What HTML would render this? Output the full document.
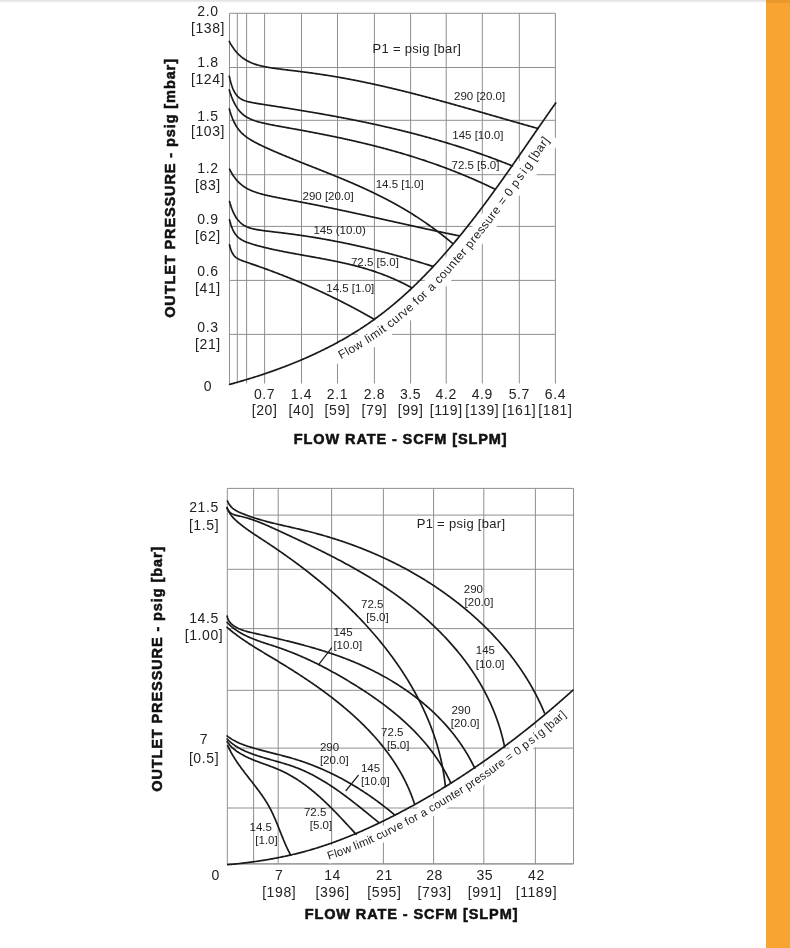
<!DOCTYPE html>
<html><head><meta charset="utf-8"><style>
html,body{margin:0;padding:0;width:790px;height:948px;overflow:hidden;background:#fff}
svg{position:absolute;left:0;top:0;display:block;filter:blur(0.3px)}
text{font-family:"Liberation Sans",sans-serif;fill:#222}
.t{font-size:14px;text-anchor:middle;letter-spacing:0.6px}
.s{font-size:11.5px}
.b{font-size:14.5px;font-weight:bold;fill:#111;stroke:#111;stroke-width:0.55px;letter-spacing:0.9px;text-anchor:middle}
.g{stroke:#8f8f8f;stroke-width:1;fill:none}
.c{stroke:#1a1a1a;stroke-width:1.7;fill:none;stroke-linecap:round}
.halo{stroke:#fff;stroke-width:13;stroke-linejoin:round;fill:#fff}
</style></head><body>
<svg width="790" height="948" viewBox="0 0 790 948">
<defs><linearGradient id="tg" x1="0" y1="0" x2="0" y2="1"><stop offset="0" stop-color="#e4e4e4"/><stop offset="0.45" stop-color="#e6e6e6"/><stop offset="1" stop-color="#fcfcfc"/></linearGradient></defs>
<rect x="0" y="0" width="790" height="2.6" fill="url(#tg)"/>
<rect x="766" y="0" width="24" height="948" fill="#f8a432"/>
<rect x="766" y="0" width="24" height="3" fill="#e9982c"/>

<path class="g" d="M229.5,13.3V383.5 M237.3,13.3V383.5 M246.6,13.3V383.5 M264.6,13.3V383.5 M301.5,13.3V383.5 M337.5,13.3V383.5 M374.4,13.3V383.5 M410.6,13.3V383.5 M446.2,13.3V383.5 M482.3,13.3V383.5 M519.3,13.3V383.5 M555.4,13.3V383.5 M229.5,13.3H555.4 M229.5,67.5H555.4 M229.5,120.3H555.4 M229.5,174.7H555.4 M229.5,226.4H555.4 M229.5,280.4H555.4 M229.5,334.4H555.4 M227.3,488.4V863.9 M253.6,488.4V863.9 M278.2,488.4V863.9 M331.6,488.4V863.9 M383.4,488.4V863.9 M433.6,488.4V863.9 M483.8,488.4V863.9 M535.4,488.4V863.9 M573.5,488.4V863.9 M227.3,488.4H573.5 M253.6,515.1H573.5 M227.3,569.3H573.5 M227.3,628.6H573.5 M227.3,690.3H573.5 M227.3,748.1H573.5 M227.3,808.0H573.5 M227.3,863.9H573.5"/>
<defs><path id="fp1" d="M233.9,400.3 L234.9,400.0 L235.9,399.8 L236.9,399.5 L237.8,399.2 L238.8,399.0 L239.8,398.7 L240.8,398.4 L241.8,398.1 L242.8,397.8 L243.8,397.6 L244.7,397.3 L245.7,397.0 L246.7,396.7 L247.7,396.4 L248.7,396.1 L249.7,395.8 L250.6,395.5 L251.6,395.2 L252.6,395.0 L253.6,394.7 L254.6,394.4 L255.5,394.1 L256.5,393.8 L257.5,393.4 L258.5,393.1 L259.5,392.8 L260.4,392.5 L261.4,392.2 L262.4,391.9 L263.4,391.6 L264.4,391.3 L265.3,390.9 L266.3,390.6 L267.3,390.3 L268.3,390.0 L269.2,389.7 L270.2,389.3 L271.2,389.0 L272.2,388.7 L273.1,388.3 L274.1,388.0 L275.1,387.7 L276.0,387.3 L277.0,387.0 L278.0,386.6 L279.0,386.3 L279.9,386.0 L280.9,385.6 L281.9,385.3 L282.8,384.9 L283.8,384.6 L284.8,384.2 L285.7,383.8 L286.7,383.5 L287.7,383.1 L288.6,382.8 L289.6,382.4 L290.6,382.0 L291.5,381.7 L292.5,381.3 L293.5,380.9 L294.4,380.5 L295.4,380.2 L296.3,379.8 L297.3,379.4 L298.3,379.0 L299.2,378.6 L300.2,378.2 L301.1,377.9 L302.1,377.5 L303.0,377.1 L304.0,376.7 L304.9,376.3 L305.9,375.9 L306.9,375.5 L307.8,375.1 L308.8,374.7 L309.7,374.3 L310.7,373.8 L311.6,373.4 L312.6,373.0 L313.5,372.6 L314.4,372.2 L315.4,371.8 L316.3,371.3 L317.3,370.9 L318.2,370.5 L319.2,370.0 L320.1,369.6 L321.1,369.2 L322.0,368.7 L322.9,368.3 L323.9,367.9 L324.8,367.4 L325.7,367.0 L326.7,366.5 L327.6,366.1 L328.5,365.6 L329.5,365.2 L330.4,364.7 L331.3,364.2 L332.3,363.8 L333.2,363.3 L334.1,362.8 L335.1,362.4 L336.0,361.9 L336.9,361.4 L337.8,361.0 L338.8,360.5 L339.7,360.0 L340.6,359.5 L341.5,359.0 L342.4,358.5 L343.4,358.0 L344.3,357.5 L345.2,357.0 L346.1,356.5 L347.0,356.0 L347.9,355.5 L348.8,355.0 L349.7,354.5 L350.7,354.0 L351.6,353.5 L352.5,353.0 L353.4,352.5 L354.3,351.9 L355.2,351.4 L356.1,350.9 L357.0,350.4 L357.9,349.8 L358.8,349.3 L359.7,348.8 L360.6,348.2 L361.5,347.7 L362.3,347.1 L363.2,346.6 L364.1,346.0 L365.0,345.5 L365.9,344.9 L366.8,344.4 L367.7,343.8 L368.5,343.2 L369.4,342.7 L370.3,342.1 L371.2,341.5 L372.1,340.9 L372.9,340.4 L373.8,339.8 L374.7,339.2 L375.5,338.6 L376.4,338.0 L377.3,337.4 L378.1,336.8 L379.0,336.3 L379.9,335.7 L380.7,335.1 L381.6,334.4 L382.4,333.8 L383.3,333.2 L384.1,332.6 L385.0,332.0 L385.8,331.4 L386.7,330.8 L387.5,330.1 L388.4,329.5 L389.2,328.9 L390.1,328.3 L390.9,327.6 L391.7,327.0 L392.6,326.4 L393.4,325.7 L394.2,325.1 L395.0,324.4 L395.9,323.8 L396.7,323.1 L397.5,322.5 L398.3,321.8 L399.1,321.2 L399.9,320.5 L400.7,319.9 L401.6,319.2 L402.4,318.5 L403.2,317.9 L404.0,317.2 L404.8,316.5 L405.6,315.9 L406.4,315.2 L407.2,314.5 L408.0,313.8 L408.7,313.2 L409.5,312.5 L410.3,311.8 L411.1,311.1 L411.9,310.4 L412.7,309.7 L413.4,309.1 L414.2,308.4 L415.0,307.7 L415.8,307.0 L416.5,306.3 L417.3,305.6 L418.1,304.9 L418.8,304.2 L419.6,303.5 L420.4,302.8 L421.1,302.1 L421.9,301.3 L422.6,300.6 L423.4,299.9 L424.1,299.2 L424.9,298.5 L425.6,297.8 L426.4,297.1 L427.1,296.3 L427.9,295.6 L428.6,294.9 L429.4,294.2 L430.1,293.4 L430.8,292.7 L431.6,292.0 L432.3,291.3 L433.0,290.5 L433.8,289.8 L434.5,289.1 L435.2,288.3 L435.9,287.6 L436.6,286.9 L437.4,286.1 L438.1,285.4 L438.8,284.6 L439.5,283.9 L440.2,283.1 L440.9,282.4 L441.7,281.7 L442.4,280.9 L443.1,280.2 L443.8,279.4 L444.5,278.7 L445.2,277.9 L445.9,277.1 L446.6,276.4 L447.3,275.6 L448.0,274.9 L448.7,274.1 L449.4,273.4 L450.1,272.6 L450.7,271.8 L451.4,271.1 L452.1,270.3 L452.8,269.6 L453.5,268.8 L454.2,268.0 L454.9,267.3 L455.5,266.5 L456.2,265.7 L456.9,264.9 L457.6,264.2 L458.2,263.4 L458.9,262.6 L459.6,261.9 L460.3,261.1 L460.9,260.3 L461.6,259.5 L462.3,258.7 L462.9,258.0 L463.6,257.2 L464.2,256.4 L464.9,255.6 L465.6,254.8 L466.2,254.1 L466.9,253.3 L467.5,252.5 L468.2,251.7 L468.8,250.9 L469.5,250.1 L470.1,249.4 L470.8,248.6 L471.4,247.8 L472.1,247.0 L472.7,246.2 L473.4,245.4 L474.0,244.6 L474.7,243.8 L475.3,243.0 L475.9,242.2 L476.6,241.4 L477.2,240.7 L477.9,239.9 L478.5,239.1 L479.1,238.3 L479.8,237.5 L480.4,236.7 L481.0,235.9 L481.7,235.1 L482.3,234.3 L482.9,233.5 L483.5,232.7 L484.2,231.9 L484.8,231.1 L485.4,230.3 L486.0,229.5 L486.7,228.7 L487.3,227.8 L487.9,227.0 L488.5,226.2 L489.1,225.4 L489.8,224.6 L490.4,223.8 L491.0,223.0 L491.6,222.2 L492.2,221.4 L492.8,220.6 L493.4,219.8 L494.1,219.0 L494.7,218.2 L495.3,217.3 L495.9,216.5 L496.5,215.7 L497.1,214.9 L497.7,214.1 L498.3,213.3 L498.9,212.5 L499.5,211.7 L500.1,210.8 L500.7,210.0 L501.3,209.2 L501.9,208.4 L502.5,207.6 L503.1,206.8 L503.7,206.0 L504.3,205.1 L504.9,204.3 L505.5,203.5 L506.1,202.7 L506.7,201.9 L507.3,201.1 L507.9,200.2 L508.5,199.4 L509.1,198.6 L509.6,197.8 L510.2,197.0 L510.8,196.1 L511.4,195.3 L512.0,194.5 L512.6,193.7 L513.2,192.9 L513.8,192.0 L514.3,191.2 L514.9,190.4 L515.5,189.6 L516.1,188.8 L516.7,187.9 L517.3,187.1 L517.8,186.3 L518.4,185.5 L519.0,184.7 L519.6,183.8 L520.2,183.0 L520.8,182.2 L521.3,181.4 L521.9,180.5 L522.5,179.7 L523.1,178.9 L523.6,178.1 L524.2,177.3 L524.8,176.4 L525.4,175.6 L525.9,174.8 L526.5,174.0 L527.1,173.1 L527.7,172.3 L528.2,171.5 L528.8,170.7 L529.4,169.8 L530.0,169.0 L530.5,168.2 L531.1,167.4 L531.7,166.5 L532.3,165.7 L532.8,164.9 L533.4,164.1 L534.0,163.3 L534.5,162.4 L535.1,161.6 L535.7,160.8 L536.2,160.0 L536.8,159.1 L537.4,158.3 L538.0,157.5 L538.5,156.7 L539.1,155.8 L539.7,155.0 L540.2,154.2 L540.8,153.4 L541.4,152.6 L541.9,151.7 L542.5,150.9 L543.1,150.1 L543.6,149.3 L544.2,148.4 L544.8,147.6 L545.3,146.8 L545.9,146.0 L546.5,145.2 L547.0,144.3 L547.6,143.5 L548.2,142.7 L548.7,141.9 L549.3,141.1 L549.9,140.2 L550.4,139.4 L551.0,138.6 L551.6,137.8 L552.1,137.0 L552.7,136.1 L553.3,135.3 L553.8,134.5 L554.4,133.7 L555.0,132.9 L555.5,132.0 L556.1,131.2 L556.7,130.4 L557.2,129.6 L557.8,128.8 L558.4,128.0 L558.9,127.1 L559.5,126.3 L560.1,125.5 L560.6,124.7 L561.2,123.9 L561.8,123.1 L562.3,122.3 L562.9,121.4 L563.5,120.6 L564.1,119.8 L564.6,119.0 L565.2,118.2 L565.8,117.4 L566.3,116.6 L566.9,115.8 L567.5,114.9 L568.0,114.1 L568.6,113.3 L569.2,112.5"/><path id="fp2" d="M229.0,879.6 L230.0,879.5 L231.1,879.4 L232.1,879.4 L233.1,879.3 L234.1,879.2 L235.2,879.1 L236.2,879.0 L237.2,878.9 L238.2,878.7 L239.2,878.6 L240.3,878.5 L241.3,878.4 L242.3,878.3 L243.3,878.2 L244.4,878.1 L245.4,878.0 L246.4,877.8 L247.4,877.7 L248.4,877.6 L249.5,877.5 L250.5,877.3 L251.5,877.2 L252.5,877.1 L253.5,876.9 L254.6,876.8 L255.6,876.6 L256.6,876.5 L257.6,876.4 L258.7,876.2 L259.7,876.1 L260.7,875.9 L261.7,875.7 L262.7,875.6 L263.8,875.4 L264.8,875.3 L265.8,875.1 L266.8,874.9 L267.8,874.8 L268.8,874.6 L269.9,874.4 L270.9,874.3 L271.9,874.1 L272.9,873.9 L273.9,873.7 L275.0,873.5 L276.0,873.4 L277.0,873.2 L278.0,873.0 L279.0,872.8 L280.0,872.6 L281.1,872.4 L282.1,872.2 L283.1,872.0 L284.1,871.8 L285.1,871.6 L286.1,871.4 L287.1,871.2 L288.2,870.9 L289.2,870.7 L290.2,870.5 L291.2,870.3 L292.2,870.0 L293.2,869.8 L294.2,869.6 L295.2,869.4 L296.3,869.1 L297.3,868.9 L298.3,868.6 L299.3,868.4 L300.3,868.1 L301.3,867.9 L302.3,867.6 L303.3,867.4 L304.3,867.1 L305.3,866.9 L306.4,866.6 L307.4,866.3 L308.4,866.1 L309.4,865.8 L310.4,865.5 L311.4,865.2 L312.4,864.9 L313.4,864.7 L314.4,864.4 L315.4,864.1 L316.4,863.8 L317.4,863.5 L318.4,863.2 L319.4,862.9 L320.4,862.6 L321.4,862.3 L322.4,862.0 L323.4,861.6 L324.3,861.3 L325.3,861.0 L326.3,860.7 L327.3,860.4 L328.3,860.0 L329.3,859.7 L330.3,859.4 L331.3,859.0 L332.2,858.7 L333.2,858.4 L334.2,858.0 L335.2,857.7 L336.1,857.3 L337.1,857.0 L338.1,856.6 L339.1,856.3 L340.0,855.9 L341.0,855.6 L342.0,855.2 L343.0,854.9 L343.9,854.5 L344.9,854.1 L345.9,853.8 L346.8,853.4 L347.8,853.0 L348.8,852.7 L349.7,852.3 L350.7,851.9 L351.6,851.5 L352.6,851.1 L353.6,850.7 L354.5,850.4 L355.5,850.0 L356.4,849.6 L357.4,849.2 L358.3,848.8 L359.3,848.4 L360.2,848.0 L361.2,847.6 L362.1,847.2 L363.1,846.8 L364.0,846.4 L365.0,846.0 L365.9,845.6 L366.9,845.2 L367.8,844.7 L368.7,844.3 L369.7,843.9 L370.6,843.5 L371.6,843.1 L372.5,842.7 L373.4,842.2 L374.4,841.8 L375.3,841.4 L376.2,841.0 L377.2,840.5 L378.1,840.1 L379.0,839.7 L380.0,839.2 L380.9,838.8 L381.8,838.4 L382.7,837.9 L383.7,837.5 L384.6,837.0 L385.5,836.6 L386.4,836.1 L387.4,835.7 L388.3,835.2 L389.2,834.8 L390.1,834.3 L391.0,833.9 L392.0,833.4 L392.9,833.0 L393.8,832.5 L394.7,832.1 L395.6,831.6 L396.5,831.2 L397.4,830.7 L398.3,830.2 L399.3,829.8 L400.2,829.3 L401.1,828.8 L402.0,828.4 L402.9,827.9 L403.8,827.4 L404.7,827.0 L405.6,826.5 L406.5,826.0 L407.4,825.6 L408.3,825.1 L409.2,824.6 L410.1,824.1 L411.0,823.6 L411.9,823.2 L412.8,822.7 L413.7,822.2 L414.6,821.7 L415.5,821.2 L416.4,820.7 L417.3,820.3 L418.2,819.8 L419.1,819.3 L420.0,818.8 L420.9,818.3 L421.8,817.8 L422.7,817.3 L423.5,816.8 L424.4,816.3 L425.3,815.8 L426.2,815.3 L427.1,814.8 L428.0,814.3 L428.9,813.8 L429.8,813.3 L430.7,812.8 L431.5,812.3 L432.4,811.8 L433.3,811.3 L434.2,810.8 L435.1,810.3 L435.9,809.7 L436.8,809.2 L437.7,808.7 L438.6,808.2 L439.5,807.7 L440.3,807.2 L441.2,806.7 L442.1,806.1 L443.0,805.6 L443.8,805.1 L444.7,804.6 L445.6,804.0 L446.5,803.5 L447.3,803.0 L448.2,802.5 L449.1,801.9 L449.9,801.4 L450.8,800.9 L451.7,800.3 L452.6,799.8 L453.4,799.3 L454.3,798.7 L455.2,798.2 L456.0,797.7 L456.9,797.1 L457.7,796.6 L458.6,796.0 L459.5,795.5 L460.3,795.0 L461.2,794.4 L462.1,793.9 L462.9,793.3 L463.8,792.8 L464.6,792.2 L465.5,791.7 L466.3,791.1 L467.2,790.6 L468.1,790.0 L468.9,789.5 L469.8,788.9 L470.6,788.4 L471.5,787.8 L472.3,787.2 L473.2,786.7 L474.0,786.1 L474.9,785.6 L475.7,785.0 L476.6,784.4 L477.4,783.9 L478.3,783.3 L479.1,782.7 L479.9,782.2 L480.8,781.6 L481.6,781.0 L482.5,780.5 L483.3,779.9 L484.2,779.3 L485.0,778.7 L485.8,778.2 L486.7,777.6 L487.5,777.0 L488.4,776.4 L489.2,775.9 L490.0,775.3 L490.9,774.7 L491.7,774.1 L492.5,773.5 L493.4,773.0 L494.2,772.4 L495.0,771.8 L495.9,771.2 L496.7,770.6 L497.5,770.0 L498.3,769.4 L499.2,768.8 L500.0,768.3 L500.8,767.7 L501.7,767.1 L502.5,766.5 L503.3,765.9 L504.1,765.3 L505.0,764.7 L505.8,764.1 L506.6,763.5 L507.4,762.9 L508.2,762.3 L509.1,761.7 L509.9,761.1 L510.7,760.5 L511.5,759.9 L512.3,759.3 L513.2,758.7 L514.0,758.1 L514.8,757.5 L515.6,756.9 L516.4,756.2 L517.2,755.6 L518.0,755.0 L518.8,754.4 L519.7,753.8 L520.5,753.2 L521.3,752.6 L522.1,751.9 L522.9,751.3 L523.7,750.7 L524.5,750.1 L525.3,749.5 L526.1,748.9 L526.9,748.2 L527.7,747.6 L528.5,747.0 L529.3,746.4 L530.1,745.7 L530.9,745.1 L531.7,744.5 L532.5,743.9 L533.3,743.2 L534.1,742.6 L534.9,742.0 L535.7,741.3 L536.5,740.7 L537.3,740.1 L538.1,739.4 L538.9,738.8 L539.7,738.2 L540.5,737.5 L541.3,736.9 L542.1,736.3 L542.8,735.6 L543.6,735.0 L544.4,734.4 L545.2,733.7 L546.0,733.1 L546.8,732.4 L547.6,731.8 L548.4,731.1 L549.1,730.5 L549.9,729.8 L550.7,729.2 L551.5,728.6 L552.3,727.9 L553.1,727.3 L553.8,726.6 L554.6,726.0 L555.4,725.3 L556.2,724.7 L556.9,724.0 L557.7,723.3 L558.5,722.7 L559.3,722.0 L560.0,721.4 L560.8,720.7 L561.6,720.1 L562.4,719.4 L563.1,718.7 L563.9,718.1 L564.7,717.4 L565.4,716.8 L566.2,716.1 L567.0,715.4 L567.7,714.8 L568.5,714.1 L569.3,713.4 L570.0,712.8 L570.8,712.1 L571.6,711.4 L572.3,710.8 L573.1,710.1 L573.9,709.4 L574.6,708.8 L575.4,708.1 L576.1,707.4 L576.9,706.7 L577.7,706.1 L578.4,705.4 L579.2,704.7 L579.9,704.0 L580.7,703.4 L581.4,702.7 L582.2,702.0 L582.9,701.3"/></defs>
<text class="halo" style="font-size:12px;stroke-width:13px"><textPath href="#fp1" startOffset="115" textLength="306" lengthAdjust="spacing">Flow limit curve for a counter pressure = 0 <tspan letter-spacing="1.6">psi</tspan>g [bar]</textPath></text>
<text class="halo" style="font-size:11.5px;stroke-width:9px"><textPath href="#fp2" startOffset="102" textLength="280" lengthAdjust="spacing">Flow limit curve for a counter pressure = 0 <tspan letter-spacing="1.6">psi</tspan>g [bar]</textPath></text>
<path class="g" d="M227.3,863.9H573.5"/>
<path class="c" d="M229.30,41.39 L230.05,42.78 L230.80,44.10 L231.55,45.35 L232.30,46.53 L233.05,47.65 L233.80,48.72 L234.55,49.73 L235.30,50.69 L236.05,51.60 L236.80,52.47 L237.55,53.29 L238.30,54.06 L239.05,54.80 L239.80,55.50 L240.55,56.17 L241.30,56.80 L242.05,57.40 L242.80,57.97 L243.55,58.51 L244.30,59.03 L245.05,59.52 L245.80,59.98 L246.55,60.43 L247.30,60.85 L248.05,61.25 L248.80,61.63 L249.55,61.99 L250.30,62.34 L251.05,62.67 L251.80,62.98 L252.55,63.29 L253.30,63.57 L254.05,63.85 L254.80,64.11 L255.55,64.36 L256.30,64.60 L257.05,64.83 L257.80,65.05 L258.55,65.26 L259.30,65.46 L260.05,65.65 L260.80,65.84 L261.55,66.02 L262.30,66.19 L263.05,66.36 L263.80,66.52 L264.55,66.67 L265.30,66.82 L266.05,66.96 L266.80,67.10 L267.55,67.24 L268.30,67.37 L269.05,67.50 L269.80,67.63 L270.55,67.75 L271.30,67.87 L272.05,67.98 L272.80,68.09 L273.55,68.20 L274.30,68.31 L275.05,68.42 L275.80,68.52 L276.55,68.63 L277.30,68.73 L278.05,68.83 L278.80,68.93 L279.55,69.02 L280.30,69.12 L281.05,69.21 L281.80,69.31 L282.55,69.40 L283.30,69.49 L284.05,69.59 L284.80,69.68 L285.55,69.77 L286.30,69.86 L287.05,69.95 L287.80,70.04 L288.55,70.13 L289.30,70.22 L290.05,70.31 L290.80,70.40 L291.55,70.49 L292.30,70.58 L293.05,70.67 L293.80,70.76 L294.55,70.85 L295.30,70.94 L296.05,71.03 L296.80,71.12 L297.55,71.21 L298.30,71.31 L299.05,71.40 L299.80,71.49 L300.55,71.59 L301.30,71.68 L302.05,71.78 L302.80,71.87 L303.55,71.97 L304.30,72.06 L305.05,72.16 L305.80,72.26 L306.55,72.36 L307.30,72.45 L308.05,72.55 L308.80,72.65 L309.55,72.75 L310.30,72.86 L311.05,72.96 L311.80,73.06 L312.55,73.16 L313.30,73.27 L314.05,73.37 L314.80,73.48 L315.55,73.59 L316.30,73.69 L317.05,73.80 L317.80,73.91 L318.55,74.02 L319.30,74.13 L320.05,74.24 L320.80,74.35 L321.55,74.47 L322.30,74.58 L323.05,74.69 L323.80,74.81 L324.55,74.93 L325.30,75.04 L326.05,75.16 L326.80,75.28 L327.55,75.40 L328.30,75.52 L329.05,75.64 L329.80,75.76 L330.55,75.88 L331.30,76.00 L332.05,76.13 L332.80,76.25 L333.55,76.38 L334.30,76.50 L335.05,76.63 L335.80,76.76 L336.55,76.89 L337.30,77.02 L338.05,77.15 L338.80,77.28 L339.55,77.41 L340.30,77.54 L341.05,77.67 L341.80,77.81 L342.55,77.94 L343.30,78.08 L344.05,78.21 L344.80,78.35 L345.55,78.49 L346.30,78.63 L347.05,78.77 L347.80,78.91 L348.55,79.05 L349.30,79.19 L350.05,79.33 L350.80,79.47 L351.55,79.62 L352.30,79.76 L353.05,79.91 L353.80,80.05 L354.55,80.20 L355.30,80.35 L356.05,80.49 L356.80,80.64 L357.55,80.79 L358.30,80.94 L359.05,81.09 L359.80,81.25 L360.55,81.40 L361.30,81.55 L362.05,81.70 L362.80,81.86 L363.55,82.01 L364.30,82.17 L365.05,82.32 L365.80,82.48 L366.55,82.64 L367.30,82.80 L368.05,82.96 L368.80,83.12 L369.55,83.28 L370.30,83.44 L371.05,83.60 L371.80,83.76 L372.55,83.92 L373.30,84.09 L374.05,84.25 L374.80,84.42 L375.55,84.58 L376.30,84.75 L377.05,84.91 L377.80,85.08 L378.55,85.25 L379.30,85.42 L380.05,85.59 L380.80,85.76 L381.55,85.93 L382.30,86.10 L383.05,86.27 L383.80,86.44 L384.55,86.61 L385.30,86.78 L386.05,86.96 L386.80,87.13 L387.55,87.31 L388.30,87.48 L389.05,87.66 L389.80,87.83 L390.55,88.01 L391.30,88.19 L392.05,88.37 L392.80,88.55 L393.55,88.72 L394.30,88.90 L395.05,89.08 L395.80,89.27 L396.55,89.45 L397.30,89.63 L398.05,89.81 L398.80,89.99 L399.55,90.18 L400.30,90.36 L401.05,90.54 L401.80,90.73 L402.55,90.91 L403.30,91.10 L404.05,91.29 L404.80,91.47 L405.55,91.66 L406.30,91.85 L407.05,92.03 L407.80,92.22 L408.55,92.41 L409.30,92.60 L410.05,92.79 L410.80,92.98 L411.55,93.17 L412.30,93.36 L413.05,93.56 L413.80,93.75 L414.55,93.94 L415.30,94.13 L416.05,94.33 L416.80,94.52 L417.55,94.71 L418.30,94.91 L419.05,95.10 L419.80,95.30 L420.55,95.49 L421.30,95.69 L422.05,95.89 L422.80,96.08 L423.55,96.28 L424.30,96.48 L425.05,96.68 L425.80,96.87 L426.55,97.07 L427.30,97.27 L428.05,97.47 L428.80,97.67 L429.55,97.87 L430.30,98.07 L431.05,98.27 L431.80,98.47 L432.55,98.68 L433.30,98.88 L434.05,99.08 L434.80,99.28 L435.55,99.48 L436.30,99.69 L437.05,99.89 L437.80,100.09 L438.55,100.30 L439.30,100.50 L440.05,100.71 L440.80,100.91 L441.55,101.12 L442.30,101.32 L443.05,101.53 L443.80,101.73 L444.55,101.94 L445.30,102.15 L446.05,102.35 L446.80,102.56 L447.55,102.77 L448.30,102.98 L449.05,103.18 L449.80,103.39 L450.55,103.60 L451.30,103.81 L452.05,104.02 L452.80,104.23 L453.55,104.44 L454.30,104.65 L455.05,104.86 L455.80,105.07 L456.55,105.28 L457.30,105.49 L458.05,105.70 L458.80,105.91 L459.55,106.12 L460.30,106.33 L461.05,106.54 L461.80,106.75 L462.55,106.96 L463.30,107.18 L464.05,107.39 L464.80,107.60 L465.55,107.81 L466.30,108.03 L467.05,108.24 L467.80,108.45 L468.55,108.66 L469.30,108.88 L470.05,109.09 L470.80,109.30 L471.55,109.52 L472.30,109.73 L473.05,109.94 L473.80,110.16 L474.55,110.37 L475.30,110.59 L476.05,110.80 L476.80,111.02 L477.55,111.23 L478.30,111.44 L479.05,111.66 L479.80,111.87 L480.55,112.09 L481.30,112.30 L482.05,112.52 L482.80,112.73 L483.55,112.95 L484.30,113.16 L485.05,113.38 L485.80,113.60 L486.55,113.81 L487.30,114.03 L488.05,114.24 L488.80,114.46 L489.55,114.67 L490.30,114.89 L491.05,115.10 L491.80,115.32 L492.55,115.54 L493.30,115.75 L494.05,115.97 L494.80,116.18 L495.55,116.40 L496.30,116.62 L497.05,116.83 L497.80,117.05 L498.55,117.26 L499.30,117.48 L500.05,117.69 L500.80,117.91 L501.55,118.13 L502.30,118.34 L503.05,118.56 L503.80,118.77 L504.55,118.99 L505.30,119.20 L506.05,119.42 L506.80,119.64 L507.55,119.85 L508.30,120.07 L509.05,120.28 L509.80,120.50 L510.55,120.71 L511.30,120.93 L512.05,121.14 L512.80,121.36 L513.55,121.57 L514.30,121.79 L515.05,122.00 L515.80,122.22 L516.55,122.43 L517.30,122.65 L518.05,122.86 L518.80,123.08 L519.55,123.29 L520.30,123.50 L521.05,123.72 L521.80,123.93 L522.55,124.15 L523.30,124.36 L524.05,124.57 L524.80,124.79 L525.55,125.00 L526.30,125.21 L527.05,125.43 L527.80,125.64 L528.55,125.85 L529.30,126.06 L530.05,126.28 L530.80,126.49 L531.55,126.70 L532.30,126.91 L533.05,127.12 L533.80,127.34 L534.55,127.55 L535.30,127.76 L536.05,127.97 L536.80,128.18 L537.55,128.39 L537.90,128.49"/>
<path class="c" d="M229.30,76.30 L230.05,79.65 L230.80,82.55 L231.55,85.05 L232.30,87.22 L233.05,89.10 L233.80,90.74 L234.55,92.16 L235.30,93.39 L236.05,94.47 L236.80,95.41 L237.55,96.24 L238.30,96.96 L239.05,97.60 L239.80,98.17 L240.55,98.67 L241.30,99.12 L242.05,99.52 L242.80,99.88 L243.55,100.20 L244.30,100.50 L245.05,100.77 L245.80,101.01 L246.55,101.24 L247.30,101.45 L248.05,101.65 L248.80,101.83 L249.55,102.01 L250.30,102.18 L251.05,102.34 L251.80,102.49 L252.55,102.63 L253.30,102.78 L254.05,102.91 L254.80,103.05 L255.55,103.18 L256.30,103.31 L257.05,103.44 L257.80,103.56 L258.55,103.68 L259.30,103.81 L260.05,103.93 L260.80,104.05 L261.55,104.17 L262.30,104.28 L263.05,104.40 L263.80,104.52 L264.55,104.64 L265.30,104.75 L266.05,104.87 L266.80,104.99 L267.55,105.10 L268.30,105.22 L269.05,105.33 L269.80,105.45 L270.55,105.57 L271.30,105.68 L272.05,105.80 L272.80,105.91 L273.55,106.03 L274.30,106.15 L275.05,106.26 L275.80,106.38 L276.55,106.50 L277.30,106.61 L278.05,106.73 L278.80,106.85 L279.55,106.97 L280.30,107.08 L281.05,107.20 L281.80,107.32 L282.55,107.44 L283.30,107.56 L284.05,107.68 L284.80,107.79 L285.55,107.91 L286.30,108.03 L287.05,108.15 L287.80,108.27 L288.55,108.39 L289.30,108.51 L290.05,108.63 L290.80,108.75 L291.55,108.87 L292.30,109.00 L293.05,109.12 L293.80,109.24 L294.55,109.36 L295.30,109.48 L296.05,109.60 L296.80,109.73 L297.55,109.85 L298.30,109.97 L299.05,110.10 L299.80,110.22 L300.55,110.34 L301.30,110.47 L302.05,110.59 L302.80,110.72 L303.55,110.84 L304.30,110.97 L305.05,111.09 L305.80,111.22 L306.55,111.35 L307.30,111.47 L308.05,111.60 L308.80,111.73 L309.55,111.85 L310.30,111.98 L311.05,112.11 L311.80,112.24 L312.55,112.37 L313.30,112.49 L314.05,112.62 L314.80,112.75 L315.55,112.88 L316.30,113.01 L317.05,113.14 L317.80,113.27 L318.55,113.41 L319.30,113.54 L320.05,113.67 L320.80,113.80 L321.55,113.93 L322.30,114.07 L323.05,114.20 L323.80,114.33 L324.55,114.47 L325.30,114.60 L326.05,114.74 L326.80,114.87 L327.55,115.01 L328.30,115.14 L329.05,115.28 L329.80,115.42 L330.55,115.55 L331.30,115.69 L332.05,115.83 L332.80,115.96 L333.55,116.10 L334.30,116.24 L335.05,116.38 L335.80,116.52 L336.55,116.66 L337.30,116.80 L338.05,116.94 L338.80,117.08 L339.55,117.22 L340.30,117.37 L341.05,117.51 L341.80,117.65 L342.55,117.79 L343.30,117.94 L344.05,118.08 L344.80,118.23 L345.55,118.37 L346.30,118.52 L347.05,118.66 L347.80,118.81 L348.55,118.95 L349.30,119.10 L350.05,119.25 L350.80,119.40 L351.55,119.54 L352.30,119.69 L353.05,119.84 L353.80,119.99 L354.55,120.14 L355.30,120.29 L356.05,120.44 L356.80,120.60 L357.55,120.75 L358.30,120.90 L359.05,121.05 L359.80,121.21 L360.55,121.36 L361.30,121.51 L362.05,121.67 L362.80,121.82 L363.55,121.98 L364.30,122.14 L365.05,122.29 L365.80,122.45 L366.55,122.61 L367.30,122.77 L368.05,122.92 L368.80,123.08 L369.55,123.24 L370.30,123.40 L371.05,123.56 L371.80,123.73 L372.55,123.89 L373.30,124.05 L374.05,124.21 L374.80,124.38 L375.55,124.54 L376.30,124.70 L377.05,124.87 L377.80,125.03 L378.55,125.20 L379.30,125.37 L380.05,125.53 L380.80,125.70 L381.55,125.87 L382.30,126.04 L383.05,126.21 L383.80,126.38 L384.55,126.55 L385.30,126.72 L386.05,126.89 L386.80,127.06 L387.55,127.24 L388.30,127.41 L389.05,127.58 L389.80,127.76 L390.55,127.93 L391.30,128.11 L392.05,128.28 L392.80,128.46 L393.55,128.64 L394.30,128.82 L395.05,128.99 L395.80,129.17 L396.55,129.35 L397.30,129.53 L398.05,129.71 L398.80,129.90 L399.55,130.08 L400.30,130.26 L401.05,130.44 L401.80,130.63 L402.55,130.81 L403.30,131.00 L404.05,131.18 L404.80,131.37 L405.55,131.56 L406.30,131.74 L407.05,131.93 L407.80,132.12 L408.55,132.31 L409.30,132.50 L410.05,132.69 L410.80,132.88 L411.55,133.08 L412.30,133.27 L413.05,133.46 L413.80,133.66 L414.55,133.85 L415.30,134.05 L416.05,134.24 L416.80,134.44 L417.55,134.64 L418.30,134.84 L419.05,135.04 L419.80,135.23 L420.55,135.44 L421.30,135.64 L422.05,135.84 L422.80,136.04 L423.55,136.24 L424.30,136.45 L425.05,136.65 L425.80,136.86 L426.55,137.06 L427.30,137.27 L428.05,137.48 L428.80,137.68 L429.55,137.89 L430.30,138.10 L431.05,138.31 L431.80,138.52 L432.55,138.73 L433.30,138.95 L434.05,139.16 L434.80,139.37 L435.55,139.59 L436.30,139.80 L437.05,140.02 L437.80,140.23 L438.55,140.45 L439.30,140.67 L440.05,140.89 L440.80,141.11 L441.55,141.33 L442.30,141.55 L443.05,141.77 L443.80,141.99 L444.55,142.22 L445.30,142.44 L446.05,142.67 L446.80,142.89 L447.55,143.12 L448.30,143.35 L449.05,143.57 L449.80,143.80 L450.55,144.03 L451.30,144.26 L452.05,144.49 L452.80,144.73 L453.55,144.96 L454.30,145.19 L455.05,145.43 L455.80,145.66 L456.55,145.90 L457.30,146.13 L458.05,146.37 L458.80,146.61 L459.55,146.85 L460.30,147.09 L461.05,147.33 L461.80,147.57 L462.55,147.82 L463.30,148.06 L464.05,148.30 L464.80,148.55 L465.55,148.79 L466.30,149.04 L467.05,149.29 L467.80,149.54 L468.55,149.79 L469.30,150.04 L470.05,150.29 L470.80,150.54 L471.55,150.79 L472.30,151.04 L473.05,151.30 L473.80,151.55 L474.55,151.81 L475.30,152.07 L476.05,152.32 L476.80,152.58 L477.55,152.84 L478.30,153.10 L479.05,153.36 L479.80,153.63 L480.55,153.89 L481.30,154.15 L482.05,154.42 L482.80,154.68 L483.55,154.95 L484.30,155.22 L485.05,155.49 L485.80,155.76 L486.55,156.03 L487.30,156.30 L488.05,156.57 L488.80,156.84 L489.55,157.12 L490.30,157.39 L491.05,157.67 L491.80,157.94 L492.55,158.22 L493.30,158.50 L494.05,158.78 L494.80,159.06 L495.55,159.34 L496.30,159.62 L497.05,159.91 L497.80,160.19 L498.55,160.48 L499.30,160.76 L500.05,161.05 L500.80,161.34 L501.55,161.63 L502.30,161.92 L503.05,162.21 L503.80,162.50 L504.55,162.79 L505.30,163.09 L506.05,163.38 L506.80,163.68 L507.55,163.98 L508.30,164.27 L509.05,164.57 L509.80,164.87 L510.55,165.17 L511.30,165.47 L512.05,165.78 L512.40,165.92"/>
<path class="c" d="M229.30,89.99 L230.05,92.42 L230.80,94.65 L231.55,96.72 L232.30,98.62 L233.05,100.38 L233.80,102.00 L234.55,103.51 L235.30,104.89 L236.05,106.18 L236.80,107.37 L237.55,108.47 L238.30,109.49 L239.05,110.44 L239.80,111.32 L240.55,112.13 L241.30,112.90 L242.05,113.60 L242.80,114.26 L243.55,114.88 L244.30,115.46 L245.05,116.00 L245.80,116.50 L246.55,116.97 L247.30,117.42 L248.05,117.84 L248.80,118.23 L249.55,118.60 L250.30,118.96 L251.05,119.29 L251.80,119.61 L252.55,119.91 L253.30,120.19 L254.05,120.46 L254.80,120.73 L255.55,120.97 L256.30,121.21 L257.05,121.44 L257.80,121.67 L258.55,121.88 L259.30,122.09 L260.05,122.28 L260.80,122.48 L261.55,122.67 L262.30,122.85 L263.05,123.03 L263.80,123.20 L264.55,123.37 L265.30,123.54 L266.05,123.70 L266.80,123.86 L267.55,124.02 L268.30,124.18 L269.05,124.33 L269.80,124.48 L270.55,124.63 L271.30,124.78 L272.05,124.92 L272.80,125.07 L273.55,125.21 L274.30,125.35 L275.05,125.49 L275.80,125.64 L276.55,125.77 L277.30,125.91 L278.05,126.05 L278.80,126.19 L279.55,126.33 L280.30,126.46 L281.05,126.60 L281.80,126.73 L282.55,126.87 L283.30,127.01 L284.05,127.14 L284.80,127.28 L285.55,127.41 L286.30,127.54 L287.05,127.68 L287.80,127.81 L288.55,127.95 L289.30,128.08 L290.05,128.22 L290.80,128.35 L291.55,128.49 L292.30,128.62 L293.05,128.76 L293.80,128.89 L294.55,129.03 L295.30,129.16 L296.05,129.30 L296.80,129.44 L297.55,129.57 L298.30,129.71 L299.05,129.85 L299.80,129.98 L300.55,130.12 L301.30,130.26 L302.05,130.40 L302.80,130.53 L303.55,130.67 L304.30,130.81 L305.05,130.95 L305.80,131.09 L306.55,131.23 L307.30,131.37 L308.05,131.51 L308.80,131.65 L309.55,131.79 L310.30,131.93 L311.05,132.08 L311.80,132.22 L312.55,132.36 L313.30,132.50 L314.05,132.65 L314.80,132.79 L315.55,132.93 L316.30,133.08 L317.05,133.22 L317.80,133.37 L318.55,133.52 L319.30,133.66 L320.05,133.81 L320.80,133.96 L321.55,134.10 L322.30,134.25 L323.05,134.40 L323.80,134.55 L324.55,134.70 L325.30,134.85 L326.05,135.00 L326.80,135.15 L327.55,135.30 L328.30,135.45 L329.05,135.61 L329.80,135.76 L330.55,135.91 L331.30,136.07 L332.05,136.22 L332.80,136.37 L333.55,136.53 L334.30,136.69 L335.05,136.84 L335.80,137.00 L336.55,137.16 L337.30,137.31 L338.05,137.47 L338.80,137.63 L339.55,137.79 L340.30,137.95 L341.05,138.11 L341.80,138.27 L342.55,138.44 L343.30,138.60 L344.05,138.76 L344.80,138.93 L345.55,139.09 L346.30,139.25 L347.05,139.42 L347.80,139.59 L348.55,139.75 L349.30,139.92 L350.05,140.09 L350.80,140.26 L351.55,140.42 L352.30,140.59 L353.05,140.76 L353.80,140.94 L354.55,141.11 L355.30,141.28 L356.05,141.45 L356.80,141.63 L357.55,141.80 L358.30,141.97 L359.05,142.15 L359.80,142.33 L360.55,142.50 L361.30,142.68 L362.05,142.86 L362.80,143.04 L363.55,143.22 L364.30,143.40 L365.05,143.58 L365.80,143.76 L366.55,143.94 L367.30,144.13 L368.05,144.31 L368.80,144.49 L369.55,144.68 L370.30,144.86 L371.05,145.05 L371.80,145.24 L372.55,145.43 L373.30,145.62 L374.05,145.81 L374.80,146.00 L375.55,146.19 L376.30,146.38 L377.05,146.57 L377.80,146.76 L378.55,146.96 L379.30,147.15 L380.05,147.35 L380.80,147.55 L381.55,147.74 L382.30,147.94 L383.05,148.14 L383.80,148.34 L384.55,148.54 L385.30,148.74 L386.05,148.94 L386.80,149.15 L387.55,149.35 L388.30,149.56 L389.05,149.76 L389.80,149.97 L390.55,150.17 L391.30,150.38 L392.05,150.59 L392.80,150.80 L393.55,151.01 L394.30,151.22 L395.05,151.43 L395.80,151.65 L396.55,151.86 L397.30,152.08 L398.05,152.29 L398.80,152.51 L399.55,152.73 L400.30,152.94 L401.05,153.16 L401.80,153.38 L402.55,153.61 L403.30,153.83 L404.05,154.05 L404.80,154.27 L405.55,154.50 L406.30,154.72 L407.05,154.95 L407.80,155.18 L408.55,155.41 L409.30,155.64 L410.05,155.87 L410.80,156.10 L411.55,156.33 L412.30,156.56 L413.05,156.80 L413.80,157.03 L414.55,157.27 L415.30,157.51 L416.05,157.75 L416.80,157.98 L417.55,158.23 L418.30,158.47 L419.05,158.71 L419.80,158.95 L420.55,159.20 L421.30,159.44 L422.05,159.69 L422.80,159.93 L423.55,160.18 L424.30,160.43 L425.05,160.68 L425.80,160.93 L426.55,161.19 L427.30,161.44 L428.05,161.69 L428.80,161.95 L429.55,162.21 L430.30,162.46 L431.05,162.72 L431.80,162.98 L432.55,163.24 L433.30,163.51 L434.05,163.77 L434.80,164.03 L435.55,164.30 L436.30,164.56 L437.05,164.83 L437.80,165.10 L438.55,165.37 L439.30,165.64 L440.05,165.91 L440.80,166.19 L441.55,166.46 L442.30,166.74 L443.05,167.01 L443.80,167.29 L444.55,167.57 L445.30,167.85 L446.05,168.13 L446.80,168.41 L447.55,168.69 L448.30,168.98 L449.05,169.27 L449.80,169.55 L450.55,169.84 L451.30,170.13 L452.05,170.42 L452.80,170.71 L453.55,171.00 L454.30,171.30 L455.05,171.59 L455.80,171.89 L456.55,172.19 L457.30,172.49 L458.05,172.79 L458.80,173.09 L459.55,173.39 L460.30,173.69 L461.05,174.00 L461.80,174.31 L462.55,174.61 L463.30,174.92 L464.05,175.23 L464.80,175.54 L465.55,175.86 L466.30,176.17 L467.05,176.48 L467.80,176.80 L468.55,177.12 L469.30,177.44 L470.05,177.76 L470.80,178.08 L471.55,178.40 L472.30,178.73 L473.05,179.05 L473.80,179.38 L474.55,179.71 L475.30,180.04 L476.05,180.37 L476.80,180.70 L477.55,181.03 L478.30,181.37 L479.05,181.70 L479.80,182.04 L480.55,182.38 L481.30,182.72 L482.05,183.06 L482.80,183.40 L483.55,183.75 L484.30,184.09 L485.05,184.44 L485.80,184.79 L486.55,185.14 L487.30,185.49 L488.05,185.84 L488.80,186.19 L489.55,186.55 L490.30,186.91 L491.05,187.26 L491.80,187.62 L492.55,187.98 L493.30,188.35 L494.05,188.71 L494.80,189.08 L495.10,189.22"/>
<path class="c" d="M229.30,108.99 L230.05,111.58 L230.80,113.93 L231.55,116.08 L232.30,118.05 L233.05,119.85 L233.80,121.50 L234.55,123.01 L235.30,124.41 L236.05,125.70 L236.80,126.90 L237.55,128.01 L238.30,129.04 L239.05,130.00 L239.80,130.90 L240.55,131.75 L241.30,132.54 L242.05,133.29 L242.80,134.00 L243.55,134.67 L244.30,135.31 L245.05,135.92 L245.80,136.51 L246.55,137.07 L247.30,137.61 L248.05,138.13 L248.80,138.63 L249.55,139.11 L250.30,139.58 L251.05,140.04 L251.80,140.49 L252.55,140.92 L253.30,141.35 L254.05,141.77 L254.80,142.18 L255.55,142.58 L256.30,142.97 L257.05,143.36 L257.80,143.75 L258.55,144.13 L259.30,144.50 L260.05,144.87 L260.80,145.23 L261.55,145.59 L262.30,145.95 L263.05,146.31 L263.80,146.66 L264.55,147.01 L265.30,147.36 L266.05,147.70 L266.80,148.04 L267.55,148.38 L268.30,148.72 L269.05,149.05 L269.80,149.39 L270.55,149.72 L271.30,150.05 L272.05,150.38 L272.80,150.71 L273.55,151.03 L274.30,151.36 L275.05,151.68 L275.80,152.00 L276.55,152.32 L277.30,152.64 L278.05,152.96 L278.80,153.28 L279.55,153.60 L280.30,153.91 L281.05,154.23 L281.80,154.54 L282.55,154.85 L283.30,155.17 L284.05,155.48 L284.80,155.79 L285.55,156.10 L286.30,156.41 L287.05,156.71 L287.80,157.02 L288.55,157.33 L289.30,157.63 L290.05,157.94 L290.80,158.25 L291.55,158.55 L292.30,158.85 L293.05,159.16 L293.80,159.46 L294.55,159.76 L295.30,160.06 L296.05,160.37 L296.80,160.67 L297.55,160.97 L298.30,161.27 L299.05,161.57 L299.80,161.87 L300.55,162.17 L301.30,162.47 L302.05,162.76 L302.80,163.06 L303.55,163.36 L304.30,163.66 L305.05,163.96 L305.80,164.25 L306.55,164.55 L307.30,164.85 L308.05,165.15 L308.80,165.44 L309.55,165.74 L310.30,166.04 L311.05,166.33 L311.80,166.63 L312.55,166.93 L313.30,167.22 L314.05,167.52 L314.80,167.82 L315.55,168.11 L316.30,168.41 L317.05,168.71 L317.80,169.01 L318.55,169.30 L319.30,169.60 L320.05,169.90 L320.80,170.20 L321.55,170.49 L322.30,170.79 L323.05,171.09 L323.80,171.39 L324.55,171.69 L325.30,171.99 L326.05,172.29 L326.80,172.59 L327.55,172.89 L328.30,173.19 L329.05,173.49 L329.80,173.80 L330.55,174.10 L331.30,174.40 L332.05,174.70 L332.80,175.01 L333.55,175.31 L334.30,175.62 L335.05,175.92 L335.80,176.23 L336.55,176.54 L337.30,176.84 L338.05,177.15 L338.80,177.46 L339.55,177.77 L340.30,178.08 L341.05,178.39 L341.80,178.70 L342.55,179.01 L343.30,179.33 L344.05,179.64 L344.80,179.96 L345.55,180.27 L346.30,180.59 L347.05,180.90 L347.80,181.22 L348.55,181.54 L349.30,181.86 L350.05,182.18 L350.80,182.50 L351.55,182.83 L352.30,183.15 L353.05,183.48 L353.80,183.80 L354.55,184.13 L355.30,184.46 L356.05,184.79 L356.80,185.12 L357.55,185.45 L358.30,185.78 L359.05,186.12 L359.80,186.45 L360.55,186.79 L361.30,187.12 L362.05,187.46 L362.80,187.80 L363.55,188.14 L364.30,188.49 L365.05,188.83 L365.80,189.18 L366.55,189.52 L367.30,189.87 L368.05,190.22 L368.80,190.57 L369.55,190.93 L370.30,191.28 L371.05,191.63 L371.80,191.99 L372.55,192.35 L373.30,192.71 L374.05,193.07 L374.80,193.43 L375.55,193.80 L376.30,194.17 L377.05,194.53 L377.80,194.90 L378.55,195.28 L379.30,195.65 L380.05,196.02 L380.80,196.40 L381.55,196.78 L382.30,197.16 L383.05,197.54 L383.80,197.92 L384.55,198.31 L385.30,198.70 L386.05,199.09 L386.80,199.48 L387.55,199.87 L388.30,200.27 L389.05,200.66 L389.80,201.06 L390.55,201.46 L391.30,201.87 L392.05,202.27 L392.80,202.68 L393.55,203.09 L394.30,203.50 L395.05,203.91 L395.80,204.33 L396.55,204.75 L397.30,205.16 L398.05,205.59 L398.80,206.01 L399.55,206.44 L400.30,206.87 L401.05,207.30 L401.80,207.73 L402.55,208.17 L403.30,208.60 L404.05,209.04 L404.80,209.49 L405.55,209.93 L406.30,210.38 L407.05,210.83 L407.80,211.28 L408.55,211.73 L409.30,212.19 L410.05,212.65 L410.80,213.11 L411.55,213.58 L412.30,214.04 L413.05,214.51 L413.80,214.99 L414.55,215.46 L415.30,215.94 L416.05,216.42 L416.80,216.90 L417.55,217.39 L418.30,217.88 L419.05,218.37 L419.80,218.86 L420.55,219.36 L421.30,219.86 L422.05,220.36 L422.80,220.86 L423.55,221.37 L424.30,221.88 L425.05,222.39 L425.80,222.91 L426.55,223.43 L427.30,223.95 L428.05,224.48 L428.80,225.00 L429.55,225.53 L430.30,226.07 L431.05,226.61 L431.80,227.15 L432.55,227.69 L433.30,228.23 L434.05,228.78 L434.80,229.34 L435.55,229.89 L436.30,230.45 L437.05,231.01 L437.80,231.58 L438.55,232.15 L439.30,232.72 L440.05,233.29 L440.80,233.87 L441.55,234.45 L442.30,235.04 L443.05,235.63 L443.80,236.22 L444.55,236.81 L445.30,237.41 L446.05,238.01 L446.80,238.62 L447.55,239.22 L448.30,239.84 L449.05,240.45 L449.80,241.07 L450.55,241.69 L451.30,242.32 L452.05,242.95 L452.30,243.16"/>
<path class="c" d="M229.60,169.20 L230.35,170.66 L231.10,172.04 L231.85,173.33 L232.60,174.56 L233.35,175.71 L234.10,176.79 L234.85,177.82 L235.60,178.78 L236.35,179.70 L237.10,180.56 L237.85,181.37 L238.60,182.14 L239.35,182.87 L240.10,183.56 L240.85,184.22 L241.60,184.83 L242.35,185.42 L243.10,185.98 L243.85,186.51 L244.60,187.01 L245.35,187.49 L246.10,187.94 L246.85,188.37 L247.60,188.79 L248.35,189.18 L249.10,189.56 L249.85,189.92 L250.60,190.26 L251.35,190.59 L252.10,190.91 L252.85,191.21 L253.60,191.51 L254.35,191.79 L255.10,192.06 L255.85,192.32 L256.60,192.57 L257.35,192.81 L258.10,193.05 L258.85,193.28 L259.60,193.50 L260.35,193.72 L261.10,193.93 L261.85,194.13 L262.60,194.33 L263.35,194.52 L264.10,194.71 L264.85,194.90 L265.60,195.08 L266.35,195.26 L267.10,195.43 L267.85,195.60 L268.60,195.77 L269.35,195.94 L270.10,196.10 L270.85,196.26 L271.60,196.42 L272.35,196.58 L273.10,196.74 L273.85,196.89 L274.60,197.04 L275.35,197.20 L276.10,197.35 L276.85,197.50 L277.60,197.64 L278.35,197.79 L279.10,197.94 L279.85,198.08 L280.60,198.23 L281.35,198.37 L282.10,198.51 L282.85,198.66 L283.60,198.80 L284.35,198.94 L285.10,199.09 L285.85,199.23 L286.60,199.37 L287.35,199.51 L288.10,199.65 L288.85,199.79 L289.60,199.93 L290.35,200.08 L291.10,200.22 L291.85,200.36 L292.60,200.50 L293.35,200.64 L294.10,200.78 L294.85,200.92 L295.60,201.07 L296.35,201.21 L297.10,201.35 L297.85,201.49 L298.60,201.63 L299.35,201.78 L300.10,201.92 L300.85,202.06 L301.60,202.21 L302.35,202.35 L303.10,202.49 L303.85,202.64 L304.60,202.78 L305.35,202.93 L306.10,203.07 L306.85,203.22 L307.60,203.36 L308.35,203.51 L309.10,203.66 L309.85,203.80 L310.60,203.95 L311.35,204.10 L312.10,204.24 L312.85,204.39 L313.60,204.54 L314.35,204.69 L315.10,204.84 L315.85,204.99 L316.60,205.14 L317.35,205.29 L318.10,205.44 L318.85,205.59 L319.60,205.74 L320.35,205.89 L321.10,206.04 L321.85,206.19 L322.60,206.34 L323.35,206.50 L324.10,206.65 L324.85,206.80 L325.60,206.96 L326.35,207.11 L327.10,207.26 L327.85,207.42 L328.60,207.57 L329.35,207.73 L330.10,207.88 L330.85,208.04 L331.60,208.19 L332.35,208.35 L333.10,208.50 L333.85,208.66 L334.60,208.82 L335.35,208.97 L336.10,209.13 L336.85,209.29 L337.60,209.45 L338.35,209.61 L339.10,209.76 L339.85,209.92 L340.60,210.08 L341.35,210.24 L342.10,210.40 L342.85,210.56 L343.60,210.72 L344.35,210.88 L345.10,211.04 L345.85,211.20 L346.60,211.36 L347.35,211.52 L348.10,211.68 L348.85,211.84 L349.60,212.00 L350.35,212.17 L351.10,212.33 L351.85,212.49 L352.60,212.65 L353.35,212.82 L354.10,212.98 L354.85,213.14 L355.60,213.30 L356.35,213.47 L357.10,213.63 L357.85,213.79 L358.60,213.96 L359.35,214.12 L360.10,214.29 L360.85,214.45 L361.60,214.61 L362.35,214.78 L363.10,214.94 L363.85,215.11 L364.60,215.27 L365.35,215.44 L366.10,215.60 L366.85,215.77 L367.60,215.93 L368.35,216.10 L369.10,216.26 L369.85,216.43 L370.60,216.60 L371.35,216.76 L372.10,216.93 L372.85,217.09 L373.60,217.26 L374.35,217.43 L375.10,217.59 L375.85,217.76 L376.60,217.93 L377.35,218.09 L378.10,218.26 L378.85,218.43 L379.60,218.59 L380.35,218.76 L381.10,218.93 L381.85,219.09 L382.60,219.26 L383.35,219.43 L384.10,219.59 L384.85,219.76 L385.60,219.93 L386.35,220.10 L387.10,220.26 L387.85,220.43 L388.60,220.60 L389.35,220.76 L390.10,220.93 L390.85,221.10 L391.60,221.27 L392.35,221.43 L393.10,221.60 L393.85,221.77 L394.60,221.93 L395.35,222.10 L396.10,222.27 L396.85,222.44 L397.60,222.60 L398.35,222.77 L399.10,222.94 L399.85,223.10 L400.60,223.27 L401.35,223.44 L402.10,223.60 L402.85,223.77 L403.60,223.94 L404.35,224.10 L405.10,224.27 L405.85,224.44 L406.60,224.60 L407.35,224.77 L408.10,224.94 L408.85,225.10 L409.60,225.27 L410.35,225.43 L411.10,225.60 L411.85,225.77 L412.60,225.93 L413.35,226.10 L414.10,226.26 L414.85,226.43 L415.60,226.59 L416.35,226.76 L417.10,226.92 L417.85,227.09 L418.60,227.25 L419.35,227.42 L420.10,227.58 L420.85,227.74 L421.60,227.91 L422.35,228.07 L423.10,228.24 L423.85,228.40 L424.60,228.56 L425.35,228.73 L426.10,228.89 L426.85,229.05 L427.60,229.21 L428.35,229.38 L429.10,229.54 L429.85,229.70 L430.60,229.86 L431.35,230.02 L432.10,230.19 L432.85,230.35 L433.60,230.51 L434.35,230.67 L435.10,230.83 L435.85,230.99 L436.60,231.15 L437.35,231.31 L438.10,231.47 L438.85,231.63 L439.60,231.79 L440.35,231.95 L441.10,232.10 L441.85,232.26 L442.60,232.42 L443.35,232.58 L444.10,232.74 L444.85,232.89 L445.60,233.05 L446.35,233.21 L447.10,233.36 L447.85,233.52 L448.60,233.68 L449.35,233.83 L450.10,233.99 L450.85,234.14 L451.60,234.30 L452.35,234.45 L453.10,234.61 L453.85,234.76 L454.60,234.91 L455.35,235.07 L456.10,235.22 L456.85,235.37 L457.60,235.52 L458.35,235.67 L459.10,235.83 L459.40,235.89"/>
<path class="c" d="M229.50,201.49 L230.25,204.05 L231.00,206.37 L231.75,208.49 L232.50,210.41 L233.25,212.15 L234.00,213.74 L234.75,215.18 L235.50,216.50 L236.25,217.70 L237.00,218.79 L237.75,219.78 L238.50,220.68 L239.25,221.51 L240.00,222.26 L240.75,222.95 L241.50,223.58 L242.25,224.16 L243.00,224.68 L243.75,225.17 L244.50,225.61 L245.25,226.02 L246.00,226.39 L246.75,226.74 L247.50,227.06 L248.25,227.35 L249.00,227.63 L249.75,227.88 L250.50,228.12 L251.25,228.34 L252.00,228.54 L252.75,228.73 L253.50,228.91 L254.25,229.08 L255.00,229.24 L255.75,229.39 L256.50,229.54 L257.25,229.67 L258.00,229.81 L258.75,229.93 L259.50,230.05 L260.25,230.17 L261.00,230.28 L261.75,230.39 L262.50,230.49 L263.25,230.59 L264.00,230.70 L264.75,230.79 L265.50,230.89 L266.25,230.98 L267.00,231.08 L267.75,231.17 L268.50,231.26 L269.25,231.35 L270.00,231.44 L270.75,231.53 L271.50,231.62 L272.25,231.71 L273.00,231.80 L273.75,231.88 L274.50,231.97 L275.25,232.06 L276.00,232.15 L276.75,232.24 L277.50,232.33 L278.25,232.42 L279.00,232.51 L279.75,232.60 L280.50,232.69 L281.25,232.78 L282.00,232.87 L282.75,232.96 L283.50,233.05 L284.25,233.15 L285.00,233.24 L285.75,233.33 L286.50,233.43 L287.25,233.52 L288.00,233.62 L288.75,233.72 L289.50,233.81 L290.25,233.91 L291.00,234.01 L291.75,234.11 L292.50,234.21 L293.25,234.31 L294.00,234.41 L294.75,234.52 L295.50,234.62 L296.25,234.72 L297.00,234.83 L297.75,234.94 L298.50,235.04 L299.25,235.15 L300.00,235.26 L300.75,235.37 L301.50,235.47 L302.25,235.59 L303.00,235.70 L303.75,235.81 L304.50,235.92 L305.25,236.03 L306.00,236.15 L306.75,236.26 L307.50,236.38 L308.25,236.49 L309.00,236.61 L309.75,236.73 L310.50,236.85 L311.25,236.97 L312.00,237.09 L312.75,237.21 L313.50,237.33 L314.25,237.45 L315.00,237.58 L315.75,237.70 L316.50,237.83 L317.25,237.95 L318.00,238.08 L318.75,238.21 L319.50,238.34 L320.25,238.46 L321.00,238.59 L321.75,238.72 L322.50,238.86 L323.25,238.99 L324.00,239.12 L324.75,239.25 L325.50,239.39 L326.25,239.52 L327.00,239.66 L327.75,239.80 L328.50,239.93 L329.25,240.07 L330.00,240.21 L330.75,240.35 L331.50,240.49 L332.25,240.63 L333.00,240.77 L333.75,240.92 L334.50,241.06 L335.25,241.21 L336.00,241.35 L336.75,241.50 L337.50,241.64 L338.25,241.79 L339.00,241.94 L339.75,242.09 L340.50,242.24 L341.25,242.39 L342.00,242.54 L342.75,242.69 L343.50,242.84 L344.25,243.00 L345.00,243.15 L345.75,243.31 L346.50,243.46 L347.25,243.62 L348.00,243.78 L348.75,243.94 L349.50,244.09 L350.25,244.25 L351.00,244.42 L351.75,244.58 L352.50,244.74 L353.25,244.90 L354.00,245.06 L354.75,245.23 L355.50,245.39 L356.25,245.56 L357.00,245.73 L357.75,245.89 L358.50,246.06 L359.25,246.23 L360.00,246.40 L360.75,246.57 L361.50,246.74 L362.25,246.91 L363.00,247.08 L363.75,247.26 L364.50,247.43 L365.25,247.61 L366.00,247.78 L366.75,247.96 L367.50,248.14 L368.25,248.31 L369.00,248.49 L369.75,248.67 L370.50,248.85 L371.25,249.03 L372.00,249.21 L372.75,249.40 L373.50,249.58 L374.25,249.76 L375.00,249.95 L375.75,250.13 L376.50,250.32 L377.25,250.50 L378.00,250.69 L378.75,250.88 L379.50,251.07 L380.25,251.26 L381.00,251.45 L381.75,251.64 L382.50,251.83 L383.25,252.02 L384.00,252.22 L384.75,252.41 L385.50,252.61 L386.25,252.80 L387.00,253.00 L387.75,253.19 L388.50,253.39 L389.25,253.59 L390.00,253.79 L390.75,253.99 L391.50,254.19 L392.25,254.39 L393.00,254.59 L393.75,254.80 L394.50,255.00 L395.25,255.20 L396.00,255.41 L396.75,255.61 L397.50,255.82 L398.25,256.03 L399.00,256.23 L399.75,256.44 L400.50,256.65 L401.25,256.86 L402.00,257.07 L402.75,257.28 L403.50,257.50 L404.25,257.71 L405.00,257.92 L405.75,258.14 L406.50,258.35 L407.25,258.57 L408.00,258.78 L408.75,259.00 L409.50,259.22 L410.25,259.44 L411.00,259.66 L411.75,259.88 L412.50,260.10 L413.25,260.32 L414.00,260.54 L414.75,260.76 L415.50,260.99 L416.25,261.21 L417.00,261.44 L417.75,261.66 L418.50,261.89 L419.25,262.12 L420.00,262.34 L420.75,262.57 L421.50,262.80 L422.25,263.03 L423.00,263.26 L423.75,263.49 L424.50,263.72 L425.25,263.96 L426.00,264.19 L426.75,264.42 L427.50,264.66 L428.25,264.90 L429.00,265.13 L429.75,265.37 L430.50,265.61 L431.25,265.84 L432.00,266.08 L432.75,266.32 L432.80,266.34"/>
<path class="c" d="M229.50,219.80 L230.25,222.61 L231.00,225.04 L231.75,227.15 L232.50,228.99 L233.25,230.58 L234.00,231.98 L234.75,233.21 L235.50,234.29 L236.25,235.25 L237.00,236.10 L237.75,236.86 L238.50,237.54 L239.25,238.16 L240.00,238.72 L240.75,239.23 L241.50,239.70 L242.25,240.13 L243.00,240.54 L243.75,240.91 L244.50,241.27 L245.25,241.60 L246.00,241.91 L246.75,242.22 L247.50,242.50 L248.25,242.78 L249.00,243.05 L249.75,243.31 L250.50,243.56 L251.25,243.80 L252.00,244.04 L252.75,244.27 L253.50,244.49 L254.25,244.71 L255.00,244.93 L255.75,245.15 L256.50,245.36 L257.25,245.56 L258.00,245.77 L258.75,245.97 L259.50,246.16 L260.25,246.36 L261.00,246.55 L261.75,246.74 L262.50,246.93 L263.25,247.12 L264.00,247.30 L264.75,247.49 L265.50,247.67 L266.25,247.85 L267.00,248.02 L267.75,248.20 L268.50,248.37 L269.25,248.55 L270.00,248.72 L270.75,248.89 L271.50,249.05 L272.25,249.22 L273.00,249.39 L273.75,249.55 L274.50,249.71 L275.25,249.87 L276.00,250.03 L276.75,250.19 L277.50,250.35 L278.25,250.50 L279.00,250.66 L279.75,250.81 L280.50,250.97 L281.25,251.12 L282.00,251.27 L282.75,251.42 L283.50,251.57 L284.25,251.72 L285.00,251.86 L285.75,252.01 L286.50,252.15 L287.25,252.30 L288.00,252.44 L288.75,252.59 L289.50,252.73 L290.25,252.87 L291.00,253.01 L291.75,253.15 L292.50,253.29 L293.25,253.43 L294.00,253.57 L294.75,253.71 L295.50,253.84 L296.25,253.98 L297.00,254.12 L297.75,254.25 L298.50,254.39 L299.25,254.53 L300.00,254.66 L300.75,254.80 L301.50,254.93 L302.25,255.07 L303.00,255.20 L303.75,255.33 L304.50,255.47 L305.25,255.60 L306.00,255.74 L306.75,255.87 L307.50,256.01 L308.25,256.14 L309.00,256.27 L309.75,256.41 L310.50,256.54 L311.25,256.68 L312.00,256.81 L312.75,256.94 L313.50,257.08 L314.25,257.21 L315.00,257.35 L315.75,257.49 L316.50,257.62 L317.25,257.76 L318.00,257.90 L318.75,258.03 L319.50,258.17 L320.25,258.31 L321.00,258.45 L321.75,258.59 L322.50,258.73 L323.25,258.87 L324.00,259.01 L324.75,259.15 L325.50,259.29 L326.25,259.43 L327.00,259.58 L327.75,259.72 L328.50,259.87 L329.25,260.01 L330.00,260.16 L330.75,260.31 L331.50,260.46 L332.25,260.61 L333.00,260.76 L333.75,260.91 L334.50,261.06 L335.25,261.22 L336.00,261.37 L336.75,261.53 L337.50,261.69 L338.25,261.84 L339.00,262.00 L339.75,262.17 L340.50,262.33 L341.25,262.49 L342.00,262.66 L342.75,262.82 L343.50,262.99 L344.25,263.16 L345.00,263.33 L345.75,263.50 L346.50,263.67 L347.25,263.85 L348.00,264.03 L348.75,264.20 L349.50,264.38 L350.25,264.56 L351.00,264.75 L351.75,264.93 L352.50,265.12 L353.25,265.31 L354.00,265.50 L354.75,265.69 L355.50,265.88 L356.25,266.08 L357.00,266.28 L357.75,266.48 L358.50,266.68 L359.25,266.88 L360.00,267.09 L360.75,267.29 L361.50,267.50 L362.25,267.71 L363.00,267.93 L363.75,268.14 L364.50,268.36 L365.25,268.58 L366.00,268.81 L366.75,269.03 L367.50,269.26 L368.25,269.49 L369.00,269.72 L369.75,269.95 L370.50,270.19 L371.25,270.43 L372.00,270.67 L372.75,270.92 L373.50,271.16 L374.25,271.41 L375.00,271.66 L375.75,271.92 L376.50,272.18 L377.25,272.44 L378.00,272.70 L378.75,272.96 L379.50,273.23 L380.25,273.50 L381.00,273.78 L381.75,274.06 L382.50,274.34 L383.25,274.62 L384.00,274.90 L384.75,275.19 L385.50,275.48 L386.25,275.78 L387.00,276.08 L387.75,276.38 L388.50,276.68 L389.25,276.99 L390.00,277.30 L390.75,277.61 L391.50,277.93 L392.25,278.25 L393.00,278.57 L393.75,278.90 L394.50,279.23 L395.25,279.56 L396.00,279.90 L396.75,280.24 L397.50,280.58 L398.25,280.93 L399.00,281.28 L399.75,281.64 L400.50,282.00 L401.25,282.36 L402.00,282.72 L402.75,283.09 L403.50,283.47 L404.25,283.84 L405.00,284.22 L405.75,284.61 L406.50,284.99 L407.25,285.39 L408.00,285.78 L408.75,286.18 L409.50,286.59 L410.25,286.99 L411.00,287.40 L411.50,287.68"/>
<path class="c" d="M229.50,244.80 L230.25,247.69 L231.00,249.99 L231.75,251.83 L232.50,253.32 L233.25,254.53 L234.00,255.52 L234.75,256.35 L235.50,257.05 L236.25,257.65 L237.00,258.16 L237.75,258.62 L238.50,259.03 L239.25,259.40 L240.00,259.75 L240.75,260.07 L241.50,260.38 L242.25,260.67 L243.00,260.95 L243.75,261.23 L244.50,261.50 L245.25,261.76 L246.00,262.02 L246.75,262.28 L247.50,262.54 L248.25,262.80 L249.00,263.06 L249.75,263.32 L250.50,263.57 L251.25,263.83 L252.00,264.09 L252.75,264.35 L253.50,264.60 L254.25,264.86 L255.00,265.12 L255.75,265.38 L256.50,265.64 L257.25,265.91 L258.00,266.17 L258.75,266.43 L259.50,266.70 L260.25,266.96 L261.00,267.23 L261.75,267.50 L262.50,267.77 L263.25,268.03 L264.00,268.30 L264.75,268.58 L265.50,268.85 L266.25,269.12 L267.00,269.39 L267.75,269.67 L268.50,269.94 L269.25,270.22 L270.00,270.50 L270.75,270.78 L271.50,271.06 L272.25,271.34 L273.00,271.62 L273.75,271.90 L274.50,272.18 L275.25,272.47 L276.00,272.75 L276.75,273.04 L277.50,273.32 L278.25,273.61 L279.00,273.90 L279.75,274.19 L280.50,274.48 L281.25,274.77 L282.00,275.07 L282.75,275.36 L283.50,275.65 L284.25,275.95 L285.00,276.25 L285.75,276.54 L286.50,276.84 L287.25,277.14 L288.00,277.44 L288.75,277.74 L289.50,278.05 L290.25,278.35 L291.00,278.65 L291.75,278.96 L292.50,279.27 L293.25,279.57 L294.00,279.88 L294.75,280.19 L295.50,280.50 L296.25,280.82 L297.00,281.13 L297.75,281.44 L298.50,281.76 L299.25,282.07 L300.00,282.39 L300.75,282.71 L301.50,283.03 L302.25,283.35 L303.00,283.67 L303.75,283.99 L304.50,284.31 L305.25,284.64 L306.00,284.96 L306.75,285.29 L307.50,285.62 L308.25,285.94 L309.00,286.27 L309.75,286.60 L310.50,286.94 L311.25,287.27 L312.00,287.60 L312.75,287.94 L313.50,288.27 L314.25,288.61 L315.00,288.95 L315.75,289.29 L316.50,289.63 L317.25,289.97 L318.00,290.31 L318.75,290.66 L319.50,291.00 L320.25,291.35 L321.00,291.69 L321.75,292.04 L322.50,292.39 L323.25,292.74 L324.00,293.09 L324.75,293.45 L325.50,293.80 L326.25,294.15 L327.00,294.51 L327.75,294.87 L328.50,295.23 L329.25,295.59 L330.00,295.95 L330.75,296.31 L331.50,296.67 L332.25,297.03 L333.00,297.40 L333.75,297.77 L334.50,298.13 L335.25,298.50 L336.00,298.87 L336.75,299.24 L337.50,299.61 L338.25,299.99 L339.00,300.36 L339.75,300.74 L340.50,301.11 L341.25,301.49 L342.00,301.87 L342.75,302.25 L343.50,302.63 L344.25,303.01 L345.00,303.40 L345.75,303.78 L346.50,304.17 L347.25,304.56 L348.00,304.95 L348.75,305.34 L349.50,305.73 L350.25,306.12 L351.00,306.51 L351.75,306.91 L352.50,307.30 L353.25,307.70 L354.00,308.10 L354.75,308.50 L355.50,308.90 L356.25,309.30 L357.00,309.70 L357.75,310.11 L358.50,310.51 L359.25,310.92 L360.00,311.33 L360.75,311.74 L361.50,312.15 L362.25,312.56 L363.00,312.97 L363.75,313.39 L364.50,313.80 L365.25,314.22 L366.00,314.64 L366.75,315.06 L367.50,315.48 L368.25,315.90 L369.00,316.32 L369.75,316.75 L370.50,317.17 L371.25,317.60 L372.00,318.03 L372.75,318.46 L373.50,318.89 L374.25,319.32 L374.40,319.41"/>
<path class="c" d="M229.59,384.38 L230.55,384.12 L231.52,383.85 L232.48,383.59 L233.44,383.32 L234.40,383.06 L235.36,382.79 L236.33,382.52 L237.29,382.25 L238.25,381.97 L239.21,381.70 L240.17,381.42 L241.12,381.15 L242.08,380.87 L243.04,380.59 L244.00,380.30 L244.96,380.02 L245.91,379.74 L246.87,379.45 L247.83,379.16 L248.78,378.87 L249.74,378.58 L250.69,378.29 L251.64,377.99 L252.60,377.70 L253.55,377.40 L254.50,377.10 L255.45,376.80 L256.41,376.49 L257.36,376.19 L258.31,375.88 L259.26,375.58 L260.21,375.27 L261.15,374.95 L262.10,374.64 L263.05,374.33 L264.00,374.01 L264.94,373.69 L265.89,373.37 L266.83,373.05 L267.78,372.73 L268.72,372.40 L269.67,372.08 L270.61,371.75 L271.55,371.42 L272.49,371.09 L273.43,370.75 L274.37,370.42 L275.31,370.08 L276.25,369.74 L277.19,369.40 L278.13,369.06 L279.07,368.72 L280.00,368.37 L280.94,368.02 L281.87,367.67 L282.81,367.32 L283.74,366.97 L284.67,366.61 L285.61,366.25 L286.54,365.89 L287.47,365.53 L288.40,365.17 L289.33,364.81 L290.26,364.44 L291.18,364.07 L292.11,363.70 L293.04,363.33 L293.96,362.95 L294.89,362.58 L295.81,362.20 L296.73,361.82 L297.66,361.44 L298.58,361.05 L299.50,360.67 L300.42,360.28 L301.34,359.89 L302.26,359.49 L303.17,359.10 L304.09,358.70 L305.01,358.31 L305.92,357.91 L306.83,357.50 L307.75,357.10 L308.66,356.69 L309.57,356.28 L310.48,355.87 L311.39,355.46 L312.30,355.05 L313.20,354.63 L314.11,354.21 L315.01,353.79 L315.92,353.37 L316.82,352.94 L317.72,352.51 L318.63,352.08 L319.53,351.65 L320.42,351.22 L321.32,350.78 L322.22,350.34 L323.12,349.90 L324.01,349.46 L324.90,349.02 L325.80,348.57 L326.69,348.12 L327.58,347.67 L328.47,347.21 L329.36,346.76 L330.24,346.30 L331.13,345.84 L332.01,345.38 L332.90,344.91 L333.78,344.45 L334.66,343.98 L335.54,343.50 L336.42,343.03 L337.30,342.55 L338.17,342.08 L339.05,341.59 L339.92,341.11 L340.79,340.63 L341.67,340.14 L342.54,339.65 L343.40,339.16 L344.27,338.66 L345.14,338.16 L346.00,337.66 L346.86,337.16 L347.73,336.66 L348.59,336.15 L349.44,335.64 L350.30,335.13 L351.16,334.62 L352.01,334.10 L352.87,333.58 L353.72,333.06 L354.57,332.54 L355.42,332.01 L356.26,331.48 L357.11,330.95 L357.95,330.42 L358.79,329.88 L359.64,329.35 L360.48,328.80 L361.31,328.26 L362.15,327.72 L362.98,327.17 L363.82,326.62 L364.65,326.07 L365.48,325.51 L366.31,324.95 L367.13,324.39 L367.96,323.83 L368.78,323.26 L369.60,322.70 L370.42,322.13 L371.24,321.55 L372.05,320.98 L372.87,320.40 L373.68,319.82 L374.49,319.24 L375.30,318.65 L376.11,318.06 L376.91,317.47 L377.71,316.88 L378.52,316.28 L379.32,315.69 L380.11,315.09 L380.91,314.48 L381.70,313.88 L382.50,313.27 L383.29,312.66 L384.08,312.05 L384.86,311.44 L385.65,310.82 L386.43,310.20 L387.21,309.58 L387.99,308.96 L388.77,308.33 L389.55,307.70 L390.32,307.07 L391.10,306.44 L391.87,305.81 L392.64,305.17 L393.40,304.53 L394.17,303.89 L394.93,303.25 L395.70,302.61 L396.46,301.96 L397.22,301.31 L397.97,300.66 L398.73,300.01 L399.48,299.35 L400.24,298.70 L400.99,298.04 L401.73,297.38 L402.48,296.72 L403.23,296.05 L403.97,295.39 L404.71,294.72 L405.45,294.05 L406.19,293.38 L406.93,292.70 L407.67,292.03 L408.40,291.35 L409.13,290.67 L409.86,289.99 L410.59,289.31 L411.32,288.63 L412.04,287.94 L412.77,287.26 L413.49,286.57 L414.21,285.88 L414.93,285.18 L415.65,284.49 L416.37,283.79 L417.08,283.10 L417.79,282.40 L418.51,281.70 L419.22,281.00 L419.92,280.29 L420.63,279.59 L421.34,278.88 L422.04,278.17 L422.74,277.47 L423.44,276.75 L424.14,276.04 L424.84,275.33 L425.54,274.61 L426.23,273.90 L426.93,273.18 L427.62,272.46 L428.31,271.74 L429.00,271.02 L429.69,270.29 L430.38,269.57 L431.06,268.84 L431.74,268.12 L432.43,267.39 L433.11,266.66 L433.79,265.93 L434.47,265.19 L435.14,264.46 L435.82,263.72 L436.49,262.99 L437.17,262.25 L437.84,261.51 L438.51,260.77 L439.18,260.03 L439.85,259.29 L440.51,258.55 L441.18,257.80 L441.84,257.06 L442.50,256.31 L443.16,255.56 L443.82,254.81 L444.48,254.06 L445.14,253.31 L445.80,252.56 L446.45,251.81 L447.11,251.05 L447.76,250.30 L448.41,249.54 L449.06,248.78 L449.71,248.03 L450.36,247.27 L451.01,246.51 L451.65,245.74 L452.30,244.98 L452.94,244.22 L453.58,243.46 L454.23,242.69 L454.87,241.92 L455.51,241.16 L456.14,240.39 L456.78,239.62 L457.42,238.85 L458.05,238.08 L458.69,237.31 L459.32,236.54 L459.95,235.77 L460.58,234.99 L461.21,234.22 L461.84,233.44 L462.47,232.67 L463.10,231.89 L463.72,231.11 L464.35,230.33 L464.97,229.55 L465.59,228.77 L466.21,227.99 L466.84,227.21 L467.46,226.43 L468.07,225.64 L468.69,224.86 L469.31,224.07 L469.93,223.29 L470.54,222.50 L471.16,221.72 L471.77,220.93 L472.38,220.14 L472.99,219.35 L473.61,218.56 L474.22,217.77 L474.82,216.98 L475.43,216.19 L476.04,215.40 L476.65,214.60 L477.25,213.81 L477.86,213.02 L478.46,212.22 L479.07,211.43 L479.67,210.63 L480.27,209.83 L480.87,209.04 L481.47,208.24 L482.07,207.44 L482.67,206.64 L483.27,205.84 L483.87,205.04 L484.46,204.24 L485.06,203.44 L485.65,202.64 L486.25,201.84 L486.84,201.04 L487.44,200.23 L488.03,199.43 L488.62,198.63 L489.21,197.82 L489.80,197.02 L490.39,196.21 L490.98,195.41 L491.57,194.60 L492.16,193.79 L492.75,192.99 L493.33,192.18 L493.92,191.37 L494.51,190.56 L495.09,189.75 L495.68,188.94 L496.26,188.13 L496.84,187.32 L497.43,186.51 L498.01,185.70 L498.59,184.89 L499.17,184.08 L499.75,183.27 L500.33,182.46 L500.91,181.64 L501.49,180.83 L502.07,180.02 L502.65,179.20 L503.23,178.39 L503.81,177.57 L504.38,176.76 L504.96,175.94 L505.54,175.13 L506.11,174.31 L506.69,173.50 L507.26,172.68 L507.84,171.87 L508.41,171.05 L508.99,170.23 L509.56,169.42 L510.13,168.60 L510.71,167.78 L511.28,166.96 L511.85,166.15 L512.42,165.33 L513.00,164.51 L513.57,163.69 L514.14,162.87 L514.71,162.05 L515.28,161.23 L515.85,160.41 L516.42,159.60 L516.99,158.78 L517.56,157.96 L518.13,157.14 L518.70,156.32 L519.27,155.50 L519.84,154.68 L520.41,153.85 L520.98,153.03 L521.54,152.21 L522.11,151.39 L522.68,150.57 L523.25,149.75 L523.82,148.93 L524.38,148.11 L524.95,147.29 L525.52,146.47 L526.09,145.64 L526.65,144.82 L527.22,144.00 L527.79,143.18 L528.36,142.36 L528.92,141.54 L529.49,140.72 L530.06,139.89 L530.62,139.07 L531.19,138.25 L531.76,137.43 L532.33,136.61 L532.89,135.79 L533.46,134.96 L534.03,134.14 L534.59,133.32 L535.16,132.50 L535.73,131.68 L536.30,130.86 L536.86,130.03 L537.43,129.21 L538.00,128.39 L538.57,127.57 L539.14,126.75 L539.70,125.93 L540.27,125.11 L540.84,124.29 L541.41,123.47 L541.98,122.65 L542.55,121.83 L543.12,121.01 L543.68,120.19 L544.25,119.37 L544.82,118.55 L545.39,117.73 L545.96,116.91 L546.53,116.09 L547.10,115.27 L547.68,114.45 L548.25,113.63 L548.82,112.81 L549.39,111.99 L549.96,111.17 L550.53,110.36 L551.11,109.54 L551.68,108.72 L552.25,107.90 L552.83,107.09 L553.40,106.27 L553.97,105.45 L554.55,104.64 L555.12,103.82 L555.70,103.00"/>
<path class="c" d="M227.52,501.05 L227.91,501.97 L228.35,502.87 L228.84,503.74 L229.37,504.59 L229.95,505.40 L230.58,506.18 L231.25,506.92 L231.96,507.63 L232.70,508.30 L233.48,508.93 L234.28,509.52 L235.12,510.07 L235.97,510.59 L236.85,511.07 L237.74,511.53 L238.64,511.96 L239.55,512.37 L240.47,512.77 L241.39,513.16 L242.31,513.54 L243.24,513.91 L244.17,514.28 L245.10,514.64 L246.04,514.99 L246.97,515.34 L247.91,515.68 L248.85,516.02 L249.80,516.35 L250.74,516.68 L251.69,517.00 L252.64,517.32 L253.59,517.63 L254.54,517.94 L255.49,518.24 L256.44,518.54 L257.40,518.84 L258.36,519.13 L259.31,519.41 L260.27,519.69 L261.23,519.97 L262.20,520.24 L263.16,520.51 L264.12,520.78 L265.09,521.05 L266.05,521.31 L267.02,521.56 L267.98,521.82 L268.95,522.07 L269.92,522.32 L270.89,522.56 L271.86,522.81 L272.83,523.05 L273.80,523.29 L274.77,523.52 L275.74,523.76 L276.71,523.99 L277.69,524.23 L278.66,524.46 L279.63,524.68 L280.61,524.91 L281.58,525.14 L282.55,525.36 L283.53,525.59 L284.50,525.81 L285.48,526.04 L286.45,526.26 L287.43,526.48 L288.40,526.70 L289.38,526.92 L290.35,527.15 L291.33,527.37 L292.30,527.59 L293.28,527.81 L294.25,528.04 L295.22,528.26 L296.20,528.48 L297.17,528.71 L298.15,528.93 L299.12,529.16 L300.09,529.39 L301.07,529.62 L302.04,529.85 L303.01,530.09 L303.98,530.32 L304.95,530.56 L305.92,530.80 L306.89,531.04 L307.86,531.28 L308.83,531.53 L309.80,531.77 L310.77,532.02 L311.74,532.27 L312.71,532.53 L313.67,532.78 L314.64,533.04 L315.60,533.30 L316.57,533.56 L317.53,533.82 L318.50,534.09 L319.46,534.36 L320.42,534.63 L321.38,534.90 L322.35,535.17 L323.31,535.45 L324.27,535.73 L325.23,536.01 L326.19,536.29 L327.14,536.58 L328.10,536.86 L329.06,537.15 L330.02,537.44 L330.97,537.74 L331.93,538.03 L332.88,538.33 L333.83,538.63 L334.79,538.93 L335.74,539.23 L336.69,539.54 L337.64,539.85 L338.59,540.16 L339.54,540.47 L340.49,540.79 L341.44,541.10 L342.39,541.42 L343.33,541.74 L344.28,542.07 L345.23,542.39 L346.17,542.72 L347.11,543.05 L348.06,543.38 L349.00,543.72 L349.94,544.05 L350.88,544.39 L351.82,544.73 L352.76,545.08 L353.70,545.42 L354.64,545.77 L355.57,546.12 L356.51,546.47 L357.44,546.82 L358.38,547.18 L359.31,547.54 L360.24,547.90 L361.17,548.26 L362.10,548.63 L363.03,549.00 L363.96,549.37 L364.89,549.74 L365.82,550.11 L366.74,550.49 L367.67,550.87 L368.59,551.25 L369.52,551.63 L370.44,552.02 L371.36,552.40 L372.28,552.79 L373.20,553.18 L374.12,553.58 L375.04,553.98 L375.96,554.37 L376.87,554.78 L377.79,555.18 L378.70,555.58 L379.61,555.99 L380.52,556.40 L381.43,556.82 L382.34,557.23 L383.25,557.65 L384.16,558.07 L385.07,558.49 L385.97,558.91 L386.88,559.34 L387.78,559.77 L388.68,560.20 L389.58,560.63 L390.48,561.07 L391.38,561.50 L392.28,561.94 L393.18,562.38 L394.07,562.83 L394.97,563.28 L395.86,563.72 L396.75,564.18 L397.64,564.63 L398.53,565.09 L399.42,565.54 L400.31,566.00 L401.20,566.47 L402.08,566.93 L402.96,567.40 L403.85,567.87 L404.73,568.34 L405.61,568.81 L406.49,569.29 L407.37,569.77 L408.24,570.25 L409.12,570.73 L409.99,571.22 L410.86,571.71 L411.73,572.20 L412.60,572.69 L413.47,573.18 L414.34,573.68 L415.21,574.18 L416.07,574.68 L416.94,575.19 L417.80,575.69 L418.66,576.20 L419.52,576.71 L420.38,577.23 L421.23,577.74 L422.09,578.26 L422.94,578.78 L423.79,579.30 L424.65,579.82 L425.49,580.35 L426.34,580.88 L427.19,581.41 L428.04,581.95 L428.88,582.48 L429.72,583.02 L430.56,583.56 L431.40,584.10 L432.24,584.65 L433.08,585.20 L433.91,585.74 L434.75,586.30 L435.58,586.85 L436.41,587.41 L437.24,587.97 L438.07,588.53 L438.89,589.09 L439.72,589.66 L440.54,590.22 L441.36,590.79 L442.18,591.37 L443.00,591.94 L443.81,592.52 L444.63,593.10 L445.44,593.68 L446.25,594.26 L447.06,594.85 L447.87,595.44 L448.68,596.03 L449.49,596.62 L450.29,597.21 L451.09,597.81 L451.89,598.41 L452.69,599.01 L453.49,599.62 L454.28,600.22 L455.07,600.83 L455.86,601.44 L456.65,602.06 L457.44,602.67 L458.23,603.29 L459.01,603.91 L459.79,604.53 L460.58,605.16 L461.35,605.78 L462.13,606.41 L462.91,607.04 L463.68,607.68 L464.45,608.31 L465.22,608.95 L465.99,609.59 L466.75,610.23 L467.52,610.88 L468.28,611.53 L469.04,612.18 L469.80,612.83 L470.55,613.48 L471.31,614.14 L472.06,614.80 L472.81,615.46 L473.56,616.12 L474.30,616.79 L475.05,617.46 L475.79,618.13 L476.53,618.80 L477.26,619.48 L478.00,620.15 L478.73,620.83 L479.46,621.51 L480.19,622.20 L480.92,622.88 L481.65,623.57 L482.37,624.26 L483.09,624.96 L483.81,625.65 L484.52,626.35 L485.24,627.05 L485.95,627.75 L486.66,628.46 L487.36,629.16 L488.07,629.87 L488.77,630.58 L489.47,631.30 L490.17,632.01 L490.86,632.73 L491.56,633.45 L492.25,634.18 L492.93,634.90 L493.62,635.63 L494.30,636.36 L494.98,637.09 L495.66,637.83 L496.34,638.56 L497.01,639.30 L497.68,640.04 L498.35,640.79 L499.02,641.53 L499.68,642.28 L500.34,643.03 L501.00,643.78 L501.65,644.54 L502.31,645.30 L502.96,646.05 L503.61,646.82 L504.25,647.58 L504.89,648.35 L505.53,649.12 L506.17,649.89 L506.80,650.66 L507.43,651.43 L508.06,652.21 L508.69,652.99 L509.31,653.77 L509.93,654.56 L510.55,655.34 L511.16,656.13 L511.77,656.92 L512.38,657.72 L512.99,658.51 L513.59,659.31 L514.19,660.11 L514.79,660.91 L515.38,661.72 L515.97,662.52 L516.56,663.33 L517.14,664.14 L517.72,664.96 L518.30,665.77 L518.88,666.59 L519.45,667.41 L520.02,668.23 L520.59,669.06 L521.15,669.88 L521.71,670.71 L522.26,671.54 L522.82,672.37 L523.37,673.21 L523.91,674.05 L524.46,674.89 L525.00,675.73 L525.53,676.57 L526.07,677.42 L526.60,678.26 L527.12,679.11 L527.65,679.96 L528.17,680.82 L528.68,681.67 L529.20,682.53 L529.71,683.39 L530.21,684.26 L530.71,685.12 L531.21,685.99 L531.71,686.85 L532.20,687.73 L532.69,688.60 L533.17,689.47 L533.65,690.35 L534.13,691.23 L534.61,692.11 L535.08,692.99 L535.54,693.87 L536.00,694.76 L536.46,695.65 L536.92,696.54 L537.37,697.43 L537.82,698.33 L538.26,699.22 L538.70,700.12 L539.14,701.02 L539.57,701.92 L540.00,702.82 L540.42,703.73 L540.84,704.64 L541.26,705.54 L541.67,706.46 L542.08,707.37 L542.48,708.28 L542.88,709.20 L543.28,710.12 L543.67,711.04 L544.06,711.96 L544.45,712.88"/>
<path class="c" d="M227.05,507.55 L227.35,508.50 L227.74,509.42 L228.21,510.30 L228.78,511.12 L229.44,511.87 L230.18,512.54 L230.98,513.13 L231.83,513.65 L232.73,514.10 L233.65,514.48 L234.58,514.82 L235.54,515.11 L236.50,515.38 L237.47,515.62 L238.44,515.84 L239.42,516.06 L240.39,516.27 L241.36,516.49 L242.33,516.72 L243.30,516.96 L244.27,517.21 L245.23,517.47 L246.20,517.74 L247.15,518.01 L248.11,518.29 L249.07,518.59 L250.02,518.88 L250.97,519.19 L251.91,519.51 L252.86,519.83 L253.80,520.16 L254.74,520.49 L255.68,520.83 L256.61,521.18 L257.55,521.53 L258.48,521.89 L259.41,522.26 L260.34,522.63 L261.26,523.00 L262.18,523.38 L263.11,523.76 L264.03,524.15 L264.94,524.54 L265.86,524.93 L266.78,525.33 L267.69,525.73 L268.60,526.14 L269.51,526.54 L270.42,526.95 L271.33,527.36 L272.24,527.77 L273.15,528.19 L274.06,528.60 L274.97,529.02 L275.87,529.43 L276.78,529.85 L277.69,530.27 L278.59,530.69 L279.50,531.10 L280.40,531.52 L281.31,531.94 L282.22,532.36 L283.12,532.78 L284.03,533.20 L284.93,533.62 L285.84,534.03 L286.74,534.45 L287.65,534.87 L288.55,535.30 L289.46,535.72 L290.36,536.14 L291.27,536.56 L292.17,536.98 L293.08,537.40 L293.98,537.83 L294.88,538.25 L295.79,538.67 L296.69,539.10 L297.59,539.52 L298.50,539.95 L299.40,540.37 L300.30,540.80 L301.20,541.23 L302.11,541.65 L303.01,542.08 L303.91,542.51 L304.81,542.94 L305.71,543.37 L306.61,543.80 L307.51,544.23 L308.41,544.66 L309.31,545.10 L310.21,545.53 L311.11,545.97 L312.00,546.40 L312.90,546.84 L313.80,547.27 L314.70,547.71 L315.59,548.15 L316.49,548.59 L317.38,549.03 L318.28,549.47 L319.18,549.91 L320.07,550.35 L320.96,550.80 L321.86,551.24 L322.75,551.69 L323.64,552.13 L324.53,552.58 L325.43,553.03 L326.32,553.48 L327.21,553.93 L328.10,554.38 L328.99,554.83 L329.88,555.29 L330.76,555.74 L331.65,556.20 L332.54,556.65 L333.43,557.11 L334.31,557.57 L335.20,558.03 L336.08,558.49 L336.96,558.96 L337.85,559.42 L338.73,559.89 L339.61,560.35 L340.49,560.82 L341.38,561.29 L342.26,561.76 L343.13,562.23 L344.01,562.71 L344.89,563.18 L345.77,563.66 L346.64,564.13 L347.52,564.61 L348.39,565.09 L349.27,565.57 L350.14,566.06 L351.01,566.54 L351.89,567.03 L352.76,567.52 L353.63,568.00 L354.50,568.50 L355.36,568.99 L356.23,569.48 L357.10,569.98 L357.96,570.47 L358.83,570.97 L359.69,571.47 L360.56,571.97 L361.42,572.48 L362.28,572.98 L363.14,573.49 L364.00,573.99 L364.85,574.50 L365.71,575.02 L366.57,575.53 L367.42,576.04 L368.28,576.56 L369.13,577.08 L369.98,577.60 L370.83,578.12 L371.68,578.64 L372.53,579.17 L373.38,579.70 L374.22,580.23 L375.07,580.76 L375.91,581.29 L376.75,581.82 L377.60,582.36 L378.44,582.90 L379.27,583.44 L380.11,583.98 L380.95,584.53 L381.78,585.07 L382.62,585.62 L383.45,586.17 L384.28,586.72 L385.11,587.28 L385.94,587.83 L386.77,588.39 L387.59,588.95 L388.42,589.51 L389.24,590.08 L390.06,590.64 L390.89,591.21 L391.70,591.78 L392.52,592.35 L393.34,592.92 L394.15,593.50 L394.97,594.08 L395.78,594.66 L396.59,595.24 L397.40,595.82 L398.21,596.41 L399.01,597.00 L399.82,597.59 L400.62,598.18 L401.42,598.78 L402.22,599.37 L403.02,599.97 L403.82,600.57 L404.61,601.17 L405.41,601.78 L406.20,602.39 L406.99,602.99 L407.78,603.61 L408.57,604.22 L409.35,604.83 L410.14,605.45 L410.92,606.07 L411.70,606.69 L412.48,607.32 L413.26,607.94 L414.03,608.57 L414.80,609.20 L415.58,609.83 L416.35,610.47 L417.11,611.11 L417.88,611.74 L418.65,612.39 L419.41,613.03 L420.17,613.67 L420.93,614.32 L421.69,614.97 L422.44,615.62 L423.19,616.28 L423.95,616.94 L424.70,617.59 L425.44,618.26 L426.19,618.92 L426.93,619.58 L427.67,620.25 L428.41,620.92 L429.15,621.59 L429.89,622.27 L430.62,622.95 L431.35,623.62 L432.08,624.31 L432.81,624.99 L433.53,625.68 L434.25,626.36 L434.98,627.05 L435.69,627.75 L436.41,628.44 L437.12,629.14 L437.83,629.84 L438.54,630.54 L439.25,631.25 L439.96,631.95 L440.66,632.66 L441.36,633.37 L442.06,634.09 L442.75,634.80 L443.44,635.52 L444.13,636.24 L444.82,636.96 L445.51,637.69 L446.19,638.42 L446.87,639.15 L447.55,639.88 L448.22,640.61 L448.90,641.35 L449.57,642.09 L450.24,642.83 L450.90,643.58 L451.56,644.32 L452.22,645.07 L452.88,645.82 L453.53,646.58 L454.19,647.33 L454.83,648.09 L455.48,648.85 L456.12,649.61 L456.76,650.38 L457.40,651.15 L458.04,651.92 L458.67,652.69 L459.30,653.46 L459.92,654.24 L460.55,655.02 L461.17,655.80 L461.78,656.59 L462.40,657.37 L463.01,658.16 L463.62,658.95 L464.22,659.75 L464.82,660.54 L465.42,661.34 L466.02,662.14 L466.61,662.95 L467.20,663.75 L467.78,664.56 L468.37,665.37 L468.94,666.18 L469.52,667.00 L470.09,667.82 L470.66,668.64 L471.23,669.46 L471.79,670.28 L472.35,671.11 L472.90,671.94 L473.46,672.77 L474.00,673.60 L474.55,674.44 L475.09,675.28 L475.63,676.12 L476.16,676.96 L476.69,677.81 L477.22,678.65 L477.74,679.50 L478.26,680.35 L478.78,681.21 L479.29,682.06 L479.80,682.92 L480.31,683.78 L480.81,684.65 L481.30,685.51 L481.80,686.38 L482.29,687.25 L482.77,688.12 L483.25,689.00 L483.73,689.87 L484.20,690.75 L484.67,691.63 L485.14,692.51 L485.60,693.40 L486.06,694.29 L486.51,695.18 L486.96,696.07 L487.41,696.96 L487.85,697.85 L488.28,698.75 L488.72,699.65 L489.14,700.55 L489.57,701.46 L489.99,702.36 L490.40,703.27 L490.82,704.18 L491.22,705.09 L491.63,706.00 L492.02,706.92 L492.42,707.83 L492.81,708.75 L493.19,709.67 L493.57,710.60 L493.95,711.52 L494.32,712.45 L494.69,713.37 L495.05,714.30 L495.41,715.24 L495.76,716.17 L496.11,717.10 L496.46,718.04 L496.80,718.98 L497.13,719.92 L497.46,720.86 L497.79,721.80 L498.11,722.75 L498.42,723.69 L498.74,724.64 L499.04,725.59 L499.35,726.54 L499.64,727.50 L499.94,728.45 L500.23,729.40 L500.51,730.36 L500.79,731.32 L501.06,732.28 L501.33,733.24 L501.60,734.20 L501.86,735.17 L502.11,736.13 L502.36,737.10 L502.60,738.06 L502.85,739.03 L503.08,740.00 L503.31,740.97 L503.54,741.95 L503.76,742.92 L503.97,743.89 L504.18,744.87 L504.39,745.85 L504.59,746.82"/>
<path class="c" d="M227.07,507.78 L227.42,508.71 L227.81,509.63 L228.23,510.53 L228.69,511.42 L229.18,512.29 L229.70,513.14 L230.24,513.97 L230.82,514.79 L231.42,515.59 L232.05,516.36 L232.69,517.12 L233.36,517.86 L234.04,518.59 L234.74,519.30 L235.46,520.00 L236.19,520.68 L236.93,521.34 L237.68,522.00 L238.44,522.65 L239.21,523.28 L239.98,523.91 L240.76,524.53 L241.55,525.15 L242.34,525.76 L243.13,526.37 L243.92,526.97 L244.72,527.56 L245.53,528.15 L246.33,528.74 L247.14,529.32 L247.96,529.90 L248.77,530.48 L249.59,531.05 L250.41,531.62 L251.23,532.19 L252.05,532.75 L252.88,533.31 L253.70,533.87 L254.53,534.42 L255.36,534.98 L256.19,535.53 L257.03,536.08 L257.86,536.63 L258.69,537.18 L259.52,537.72 L260.36,538.27 L261.19,538.82 L262.03,539.36 L262.86,539.91 L263.70,540.46 L264.53,541.00 L265.37,541.55 L266.20,542.10 L267.03,542.65 L267.86,543.20 L268.69,543.75 L269.52,544.30 L270.35,544.86 L271.18,545.41 L272.01,545.97 L272.84,546.53 L273.66,547.08 L274.49,547.64 L275.32,548.20 L276.14,548.77 L276.96,549.33 L277.79,549.89 L278.61,550.46 L279.43,551.03 L280.25,551.59 L281.07,552.16 L281.89,552.73 L282.71,553.30 L283.52,553.87 L284.34,554.45 L285.15,555.02 L285.97,555.60 L286.78,556.18 L287.59,556.76 L288.41,557.33 L289.22,557.92 L290.03,558.50 L290.84,559.08 L291.64,559.67 L292.45,560.25 L293.26,560.84 L294.06,561.43 L294.87,562.02 L295.67,562.61 L296.47,563.20 L297.27,563.80 L298.07,564.39 L298.87,564.99 L299.67,565.59 L300.47,566.19 L301.27,566.79 L302.06,567.39 L302.86,567.99 L303.65,568.60 L304.44,569.20 L305.23,569.81 L306.02,570.42 L306.81,571.03 L307.60,571.64 L308.39,572.26 L309.17,572.87 L309.96,573.49 L310.74,574.10 L311.52,574.72 L312.30,575.34 L313.08,575.97 L313.86,576.59 L314.64,577.21 L315.42,577.84 L316.19,578.47 L316.97,579.10 L317.74,579.73 L318.51,580.36 L319.28,580.99 L320.05,581.63 L320.82,582.26 L321.58,582.90 L322.35,583.54 L323.11,584.18 L323.88,584.82 L324.64,585.47 L325.40,586.11 L326.16,586.76 L326.92,587.41 L327.67,588.06 L328.43,588.71 L329.18,589.36 L329.94,590.02 L330.69,590.68 L331.44,591.33 L332.19,591.99 L332.93,592.65 L333.68,593.32 L334.42,593.98 L335.17,594.65 L335.91,595.31 L336.65,595.98 L337.39,596.65 L338.12,597.32 L338.86,598.00 L339.59,598.67 L340.33,599.35 L341.06,600.03 L341.79,600.71 L342.52,601.39 L343.24,602.07 L343.97,602.76 L344.69,603.44 L345.42,604.13 L346.14,604.82 L346.86,605.51 L347.57,606.20 L348.29,606.90 L349.01,607.59 L349.72,608.29 L350.43,608.99 L351.14,609.69 L351.85,610.39 L352.56,611.09 L353.26,611.80 L353.97,612.51 L354.67,613.21 L355.37,613.92 L356.07,614.64 L356.77,615.35 L357.46,616.06 L358.15,616.78 L358.85,617.50 L359.54,618.22 L360.23,618.94 L360.91,619.66 L361.60,620.39 L362.28,621.11 L362.97,621.84 L363.65,622.57 L364.32,623.30 L365.00,624.04 L365.68,624.77 L366.35,625.51 L367.02,626.24 L367.69,626.98 L368.36,627.72 L369.02,628.47 L369.69,629.21 L370.35,629.96 L371.01,630.70 L371.67,631.45 L372.33,632.20 L372.98,632.96 L373.64,633.71 L374.29,634.46 L374.94,635.22 L375.58,635.98 L376.23,636.74 L376.87,637.50 L377.51,638.27 L378.15,639.03 L378.79,639.80 L379.43,640.57 L380.06,641.34 L380.69,642.11 L381.32,642.88 L381.95,643.66 L382.58,644.44 L383.20,645.22 L383.82,646.00 L384.44,646.78 L385.06,647.56 L385.67,648.35 L386.29,649.13 L386.90,649.92 L387.50,650.71 L388.11,651.50 L388.72,652.30 L389.32,653.09 L389.92,653.89 L390.52,654.69 L391.11,655.49 L391.70,656.29 L392.30,657.09 L392.88,657.90 L393.47,658.71 L394.05,659.52 L394.64,660.33 L395.22,661.14 L395.79,661.95 L396.37,662.77 L396.94,663.58 L397.51,664.40 L398.08,665.22 L398.64,666.04 L399.21,666.87 L399.77,667.69 L400.33,668.52 L400.88,669.35 L401.43,670.18 L401.98,671.01 L402.53,671.84 L403.08,672.68 L403.62,673.52 L404.16,674.35 L404.70,675.19 L405.23,676.04 L405.77,676.88 L406.30,677.72 L406.82,678.57 L407.35,679.42 L407.87,680.27 L408.39,681.12 L408.91,681.97 L409.42,682.83 L409.93,683.69 L410.44,684.54 L410.94,685.40 L411.45,686.27 L411.95,687.13 L412.44,687.99 L412.94,688.86 L413.43,689.73 L413.92,690.60 L414.40,691.47 L414.89,692.34 L415.37,693.22 L415.84,694.09 L416.32,694.97 L416.79,695.85 L417.26,696.73 L417.72,697.61 L418.18,698.50 L418.64,699.38 L419.10,700.27 L419.55,701.16 L420.00,702.05 L420.45,702.94 L420.89,703.84 L421.33,704.73 L421.77,705.63 L422.20,706.53 L422.63,707.43 L423.06,708.33 L423.48,709.23 L423.90,710.13 L424.32,711.04 L424.74,711.95 L425.15,712.86 L425.55,713.77 L425.96,714.68 L426.36,715.59 L426.76,716.51 L427.15,717.42 L427.54,718.34 L427.93,719.26 L428.31,720.18 L428.69,721.10 L429.07,722.03 L429.44,722.95 L429.81,723.88 L430.18,724.81 L430.54,725.74 L430.90,726.67 L431.25,727.60 L431.61,728.53 L431.95,729.47 L432.30,730.40 L432.64,731.34 L432.98,732.28 L433.31,733.22 L433.64,734.16 L433.96,735.11 L434.28,736.05 L434.60,737.00 L434.92,737.94 L435.23,738.89 L435.53,739.84 L435.84,740.79 L436.13,741.74 L436.43,742.69 L436.72,743.65 L437.01,744.60 L437.29,745.56 L437.57,746.52 L437.84,747.48 L438.12,748.44 L438.38,749.40 L438.65,750.36 L438.90,751.32 L439.16,752.29 L439.41,753.25 L439.66,754.22 L439.90,755.19 L440.14,756.16 L440.37,757.13 L440.60,758.10 L440.83,759.07 L441.05,760.04 L441.27,761.01 L441.48,761.99 L441.69,762.96 L441.89,763.94 L442.09,764.92 L442.29,765.90 L442.48,766.87 L442.67,767.85 L442.85,768.84 L443.03,769.82 L443.20,770.80 L443.37,771.78 L443.54,772.77 L443.70,773.75 L443.86,774.73 L444.01,775.72 L444.16,776.71 L444.30,777.69 L444.44,778.68 L444.58,779.67 L444.71,780.66 L444.83,781.65 L444.95,782.64 L445.07,783.63 L445.18,784.62 L445.29,785.61 L445.40,786.60"/>
<path class="c" d="M227.17,616.10 L227.36,617.08 L227.62,618.04 L227.96,618.98 L228.38,619.89 L228.86,620.76 L229.40,621.60 L230.01,622.39 L230.66,623.14 L231.36,623.85 L232.10,624.52 L232.88,625.15 L233.68,625.74 L234.51,626.30 L235.35,626.83 L236.21,627.33 L237.09,627.81 L237.99,628.25 L238.89,628.68 L239.80,629.07 L240.73,629.45 L241.66,629.80 L242.60,630.14 L243.55,630.45 L244.50,630.76 L245.45,631.04 L246.41,631.31 L247.38,631.58 L248.34,631.83 L249.31,632.07 L250.28,632.30 L251.25,632.53 L252.22,632.76 L253.19,632.98 L254.17,633.21 L255.14,633.43 L256.11,633.65 L257.08,633.87 L258.06,634.10 L259.03,634.32 L260.00,634.54 L260.97,634.76 L261.95,634.99 L262.92,635.21 L263.89,635.43 L264.86,635.66 L265.84,635.88 L266.81,636.11 L267.78,636.33 L268.75,636.56 L269.72,636.78 L270.70,637.01 L271.67,637.23 L272.64,637.46 L273.61,637.69 L274.58,637.92 L275.55,638.15 L276.52,638.37 L277.49,638.61 L278.46,638.84 L279.44,639.07 L280.41,639.30 L281.38,639.53 L282.35,639.77 L283.31,640.00 L284.28,640.24 L285.25,640.48 L286.22,640.71 L287.19,640.95 L288.16,641.19 L289.13,641.43 L290.10,641.67 L291.06,641.92 L292.03,642.16 L293.00,642.41 L293.96,642.65 L294.93,642.90 L295.90,643.15 L296.86,643.40 L297.83,643.65 L298.79,643.90 L299.76,644.16 L300.72,644.41 L301.69,644.67 L302.65,644.93 L303.61,645.19 L304.58,645.45 L305.54,645.71 L306.50,645.98 L307.46,646.24 L308.42,646.51 L309.38,646.78 L310.34,647.05 L311.30,647.33 L312.26,647.60 L313.22,647.88 L314.18,648.16 L315.14,648.44 L316.09,648.72 L317.05,649.00 L318.00,649.29 L318.96,649.58 L319.91,649.87 L320.87,650.16 L321.82,650.46 L322.77,650.75 L323.73,651.05 L324.68,651.35 L325.63,651.65 L326.58,651.96 L327.53,652.27 L328.48,652.58 L329.42,652.89 L330.37,653.20 L331.32,653.52 L332.26,653.84 L333.21,654.16 L334.15,654.48 L335.09,654.81 L336.03,655.14 L336.98,655.47 L337.92,655.80 L338.86,656.14 L339.79,656.48 L340.73,656.82 L341.67,657.16 L342.60,657.51 L343.54,657.86 L344.47,658.21 L345.40,658.57 L346.33,658.93 L347.26,659.29 L348.19,659.65 L349.12,660.02 L350.05,660.39 L350.97,660.76 L351.90,661.13 L352.82,661.51 L353.74,661.89 L354.66,662.27 L355.58,662.66 L356.50,663.05 L357.42,663.44 L358.34,663.84 L359.25,664.24 L360.16,664.64 L361.08,665.04 L361.99,665.45 L362.90,665.86 L363.80,666.28 L364.71,666.69 L365.61,667.11 L366.52,667.54 L367.42,667.96 L368.32,668.39 L369.22,668.82 L370.12,669.26 L371.01,669.70 L371.91,670.14 L372.80,670.58 L373.69,671.03 L374.58,671.48 L375.47,671.93 L376.36,672.39 L377.25,672.85 L378.13,673.31 L379.01,673.78 L379.89,674.25 L380.77,674.72 L381.65,675.20 L382.52,675.67 L383.40,676.16 L384.27,676.64 L385.14,677.13 L386.01,677.62 L386.88,678.11 L387.74,678.61 L388.60,679.11 L389.46,679.61 L390.32,680.12 L391.18,680.63 L392.04,681.14 L392.89,681.66 L393.74,682.18 L394.59,682.70 L395.44,683.22 L396.29,683.75 L397.13,684.29 L397.97,684.82 L398.81,685.36 L399.65,685.90 L400.49,686.44 L401.32,686.99 L402.15,687.54 L402.98,688.10 L403.81,688.66 L404.64,689.22 L405.46,689.78 L406.28,690.35 L407.10,690.92 L407.91,691.49 L408.73,692.07 L409.54,692.65 L410.35,693.23 L411.16,693.82 L411.96,694.41 L412.76,695.00 L413.56,695.60 L414.36,696.20 L415.15,696.80 L415.95,697.41 L416.74,698.02 L417.52,698.63 L418.31,699.25 L419.09,699.87 L419.87,700.49 L420.65,701.12 L421.42,701.75 L422.19,702.38 L422.96,703.01 L423.72,703.65 L424.49,704.30 L425.25,704.94 L426.01,705.59 L426.76,706.25 L427.51,706.90 L428.26,707.56 L429.01,708.22 L429.75,708.89 L430.49,709.56 L431.22,710.23 L431.96,710.91 L432.69,711.59 L433.42,712.27 L434.14,712.96 L434.86,713.65 L435.58,714.34 L436.29,715.04 L437.00,715.74 L437.71,716.44 L438.42,717.15 L439.12,717.86 L439.81,718.57 L440.51,719.29 L441.20,720.01 L441.89,720.73 L442.57,721.46 L443.25,722.18 L443.93,722.92 L444.60,723.65 L445.27,724.39 L445.94,725.14 L446.60,725.88 L447.26,726.63 L447.91,727.39 L448.56,728.14 L449.21,728.90 L449.85,729.66 L450.49,730.43 L451.13,731.20 L451.76,731.97 L452.38,732.75 L453.01,733.53 L453.63,734.31 L454.24,735.10 L454.85,735.88 L455.46,736.68 L456.06,737.47 L456.66,738.27 L457.25,739.07 L457.84,739.88 L458.43,740.68 L459.01,741.50 L459.59,742.31 L460.16,743.13 L460.73,743.95 L461.29,744.77 L461.85,745.60 L462.40,746.43 L462.95,747.26 L463.50,748.10 L464.04,748.93 L464.57,749.78 L465.10,750.62 L465.63,751.47 L466.15,752.32 L466.67,753.17 L467.18,754.03 L467.69,754.89 L468.19,755.75 L468.69,756.61 L469.18,757.48 L469.67,758.35 L470.15,759.23 L470.63,760.10 L471.10,760.98 L471.57,761.86 L472.03,762.75 L472.48,763.63 L472.94,764.52 L473.38,765.42 L473.82,766.31 L474.26,767.21 L474.69,768.11"/>
<path class="c" d="M227.08,622.32 L227.76,623.04 L228.46,623.76 L229.18,624.45 L229.90,625.14 L230.64,625.81 L231.40,626.46 L232.16,627.11 L232.94,627.74 L233.72,628.35 L234.52,628.95 L235.33,629.54 L236.15,630.11 L236.97,630.67 L237.81,631.22 L238.65,631.76 L239.50,632.28 L240.36,632.79 L241.23,633.29 L242.10,633.77 L242.98,634.25 L243.86,634.71 L244.75,635.16 L245.64,635.61 L246.54,636.04 L247.45,636.46 L248.36,636.88 L249.27,637.28 L250.19,637.68 L251.11,638.07 L252.03,638.45 L252.95,638.82 L253.88,639.19 L254.81,639.55 L255.75,639.91 L256.68,640.26 L257.62,640.60 L258.56,640.94 L259.50,641.27 L260.44,641.60 L261.39,641.93 L262.33,642.25 L263.28,642.57 L264.22,642.89 L265.17,643.20 L266.12,643.51 L267.07,643.82 L268.02,644.13 L268.97,644.44 L269.92,644.75 L270.87,645.06 L271.82,645.37 L272.77,645.68 L273.72,645.99 L274.66,646.30 L275.61,646.61 L276.56,646.93 L277.51,647.25 L278.45,647.57 L279.40,647.89 L280.34,648.22 L281.28,648.55 L282.22,648.89 L283.16,649.22 L284.10,649.56 L285.04,649.91 L285.97,650.25 L286.91,650.60 L287.84,650.96 L288.78,651.31 L289.71,651.67 L290.64,652.03 L291.57,652.40 L292.50,652.77 L293.42,653.14 L294.35,653.51 L295.27,653.89 L296.20,654.27 L297.12,654.65 L298.04,655.04 L298.96,655.43 L299.88,655.82 L300.79,656.22 L301.71,656.61 L302.62,657.01 L303.54,657.42 L304.45,657.82 L305.36,658.23 L306.27,658.64 L307.18,659.06 L308.09,659.47 L308.99,659.89 L309.90,660.32 L310.80,660.74 L311.70,661.17 L312.60,661.60 L313.50,662.03 L314.40,662.47 L315.30,662.90 L316.20,663.34 L317.09,663.79 L317.99,664.23 L318.88,664.68 L319.77,665.13 L320.66,665.58 L321.55,666.03 L322.44,666.49 L323.33,666.95 L324.21,667.41 L325.10,667.87 L325.98,668.34 L326.86,668.81 L327.74,669.28 L328.62,669.75 L329.50,670.22 L330.38,670.70 L331.26,671.18 L332.13,671.66 L333.01,672.14 L333.88,672.62 L334.75,673.11 L335.62,673.60 L336.49,674.09 L337.36,674.58 L338.23,675.07 L339.10,675.57 L339.96,676.06 L340.83,676.56 L341.69,677.06 L342.56,677.56 L343.42,678.07 L344.28,678.57 L345.14,679.08 L346.00,679.59 L346.86,680.10 L347.71,680.61 L348.57,681.12 L349.43,681.64 L350.28,682.16 L351.13,682.67 L351.99,683.19 L352.84,683.72 L353.69,684.24 L354.54,684.76 L355.39,685.29 L356.23,685.82 L357.08,686.35 L357.92,686.88 L358.77,687.42 L359.61,687.95 L360.45,688.49 L361.29,689.03 L362.13,689.57 L362.97,690.11 L363.80,690.66 L364.64,691.21 L365.47,691.76 L366.31,692.31 L367.14,692.86 L367.97,693.41 L368.80,693.97 L369.62,694.53 L370.45,695.09 L371.27,695.66 L372.09,696.22 L372.92,696.79 L373.74,697.36 L374.55,697.93 L375.37,698.51 L376.19,699.08 L377.00,699.66 L377.81,700.24 L378.62,700.83 L379.43,701.41 L380.24,702.00 L381.04,702.59 L381.85,703.19 L382.65,703.78 L383.45,704.38 L384.24,704.98 L385.04,705.58 L385.83,706.19 L386.63,706.79 L387.42,707.41 L388.21,708.02 L388.99,708.63 L389.78,709.25 L390.56,709.87 L391.34,710.49 L392.12,711.12 L392.89,711.75 L393.67,712.38 L394.44,713.01 L395.21,713.65 L395.98,714.29 L396.74,714.93 L397.51,715.57 L398.27,716.22 L399.02,716.87 L399.78,717.52 L400.53,718.18 L401.28,718.84 L402.03,719.50 L402.78,720.16 L403.52,720.83 L404.26,721.50 L405.00,722.17 L405.74,722.84 L406.47,723.52 L407.20,724.20 L407.93,724.89 L408.65,725.58 L409.37,726.27 L410.09,726.96 L410.81,727.66 L411.52,728.35 L412.23,729.06 L412.93,729.76 L413.64,730.47 L414.34,731.18 L415.04,731.90 L415.73,732.61 L416.42,733.33 L417.11,734.06 L417.79,734.79 L418.48,735.52 L419.15,736.25 L419.83,736.98 L420.50,737.72 L421.17,738.47 L421.83,739.21 L422.49,739.96 L423.15,740.71 L423.80,741.47 L424.45,742.23 L425.10,742.99 L425.74,743.75 L426.38,744.52 L427.01,745.29 L427.64,746.07 L428.27,746.84 L428.89,747.63 L429.51,748.41 L430.12,749.20 L430.73,749.99 L431.34,750.78 L431.94,751.58 L432.54,752.38 L433.13,753.18 L433.72,753.99 L434.31,754.80 L434.89,755.61 L435.46,756.42 L436.03,757.24 L436.60,758.06 L437.16,758.89 L437.72,759.72 L438.27,760.55 L438.82,761.38 L439.36,762.22 L439.90,763.06 L440.44,763.91 L440.97,764.75 L441.49,765.60 L442.01,766.46 L442.52,767.31 L443.03,768.17 L443.54,769.03 L444.04,769.90 L444.53,770.76 L445.02,771.64 L445.50,772.51 L445.98,773.39 L446.46,774.26 L446.92,775.15 L447.39,776.03 L447.84,776.92 L448.30,777.81 L448.74,778.70 L449.18,779.60 L449.62,780.50 L450.05,781.40 L450.47,782.30 L450.89,783.21"/>
<path class="c" d="M227.12,627.39 L227.88,628.04 L228.63,628.69 L229.40,629.34 L230.17,629.98 L230.94,630.61 L231.71,631.24 L232.49,631.86 L233.28,632.48 L234.06,633.09 L234.85,633.70 L235.65,634.30 L236.45,634.90 L237.25,635.50 L238.05,636.09 L238.86,636.68 L239.67,637.26 L240.48,637.84 L241.30,638.41 L242.12,638.98 L242.94,639.55 L243.76,640.11 L244.59,640.67 L245.42,641.23 L246.25,641.78 L247.08,642.33 L247.92,642.88 L248.75,643.43 L249.59,643.97 L250.43,644.51 L251.27,645.05 L252.11,645.58 L252.96,646.11 L253.80,646.64 L254.65,647.17 L255.50,647.70 L256.35,648.22 L257.20,648.74 L258.05,649.27 L258.90,649.79 L259.75,650.31 L260.61,650.82 L261.46,651.34 L262.32,651.86 L263.17,652.37 L264.03,652.88 L264.88,653.40 L265.74,653.91 L266.59,654.42 L267.45,654.94 L268.31,655.45 L269.16,655.96 L270.02,656.48 L270.87,656.99 L271.73,657.50 L272.58,658.02 L273.44,658.53 L274.29,659.05 L275.15,659.57 L276.00,660.08 L276.86,660.60 L277.71,661.12 L278.56,661.64 L279.41,662.16 L280.27,662.68 L281.12,663.20 L281.97,663.72 L282.82,664.24 L283.67,664.77 L284.52,665.29 L285.37,665.82 L286.21,666.34 L287.06,666.87 L287.91,667.40 L288.75,667.93 L289.60,668.46 L290.45,668.99 L291.29,669.52 L292.13,670.05 L292.98,670.59 L293.82,671.12 L294.66,671.66 L295.50,672.20 L296.34,672.73 L297.18,673.27 L298.02,673.81 L298.86,674.36 L299.70,674.90 L300.53,675.44 L301.37,675.99 L302.20,676.54 L303.04,677.09 L303.87,677.64 L304.70,678.19 L305.53,678.74 L306.36,679.30 L307.19,679.85 L308.02,680.41 L308.85,680.97 L309.67,681.53 L310.50,682.09 L311.32,682.65 L312.15,683.22 L312.97,683.78 L313.79,684.35 L314.61,684.92 L315.43,685.49 L316.24,686.06 L317.06,686.64 L317.88,687.21 L318.69,687.79 L319.50,688.37 L320.31,688.95 L321.12,689.54 L321.93,690.12 L322.74,690.71 L323.55,691.30 L324.35,691.89 L325.15,692.48 L325.96,693.07 L326.76,693.67 L327.56,694.27 L328.35,694.87 L329.15,695.47 L329.95,696.07 L330.74,696.68 L331.53,697.28 L332.32,697.89 L333.11,698.50 L333.90,699.12 L334.68,699.73 L335.47,700.35 L336.25,700.97 L337.03,701.59 L337.81,702.22 L338.59,702.84 L339.36,703.47 L340.14,704.10 L340.91,704.73 L341.68,705.36 L342.45,706.00 L343.22,706.64 L343.98,707.28 L344.75,707.92 L345.51,708.57 L346.27,709.21 L347.03,709.86 L347.78,710.52 L348.54,711.17 L349.29,711.83 L350.04,712.48 L350.79,713.14 L351.53,713.81 L352.28,714.47 L353.02,715.14 L353.76,715.81 L354.50,716.48 L355.23,717.16 L355.97,717.83 L356.70,718.51 L357.43,719.19 L358.16,719.88 L358.88,720.56 L359.60,721.25 L360.32,721.94 L361.04,722.64 L361.76,723.33 L362.47,724.03 L363.18,724.73 L363.89,725.44 L364.59,726.14 L365.30,726.85 L366.00,727.56 L366.69,728.27 L367.39,728.99 L368.08,729.71 L368.77,730.43 L369.46,731.15 L370.14,731.88 L370.83,732.61 L371.51,733.34 L372.18,734.07 L372.86,734.81 L373.53,735.55 L374.19,736.29 L374.86,737.04 L375.52,737.78 L376.18,738.53 L376.83,739.29 L377.49,740.04 L378.14,740.80 L378.78,741.56 L379.42,742.32 L380.06,743.09 L380.70,743.86 L381.33,744.63 L381.96,745.40 L382.59,746.18 L383.21,746.96 L383.83,747.74 L384.45,748.53 L385.06,749.32 L385.67,750.11 L386.28,750.90 L386.88,751.70 L387.48,752.50 L388.07,753.30 L388.66,754.10 L389.25,754.91 L389.83,755.72 L390.41,756.54 L390.98,757.35 L391.55,758.17 L392.12,758.99 L392.68,759.82 L393.24,760.64 L393.80,761.47 L394.35,762.31 L394.89,763.14 L395.43,763.98 L395.97,764.82 L396.50,765.66 L397.03,766.51 L397.56,767.36 L398.08,768.21 L398.59,769.07 L399.10,769.93 L399.61,770.79 L400.11,771.65 L400.61,772.52 L401.10,773.38 L401.58,774.26 L402.06,775.13 L402.54,776.01 L403.01,776.89 L403.48,777.77 L403.94,778.65 L404.40,779.54 L404.85,780.43 L405.30,781.32 L405.74,782.22 L406.17,783.12 L406.60,784.02 L407.03,784.92 L407.45,785.83 L407.86,786.73 L408.27,787.65 L408.67,788.56 L409.07,789.47 L409.46,790.39 L409.85,791.31 L410.23,792.23 L410.61,793.16 L410.97,794.09 L411.34,795.02 L411.69,795.95 L412.05,796.88 L412.39,797.82 L412.73,798.76 L413.06,799.70 L413.39,800.64 L413.71,801.59 L414.03,802.53 L414.34,803.48"/>
<path class="c" d="M227.15,735.98 L227.94,736.59 L228.74,737.18 L229.56,737.75 L230.39,738.31 L231.22,738.85 L232.07,739.38 L232.93,739.89 L233.79,740.38 L234.67,740.86 L235.55,741.32 L236.44,741.77 L237.34,742.20 L238.24,742.62 L239.15,743.03 L240.07,743.42 L240.99,743.80 L241.91,744.17 L242.84,744.53 L243.78,744.88 L244.72,745.22 L245.66,745.55 L246.60,745.88 L247.55,746.19 L248.49,746.50 L249.44,746.80 L250.40,747.09 L251.35,747.38 L252.31,747.67 L253.26,747.95 L254.22,748.22 L255.18,748.50 L256.14,748.77 L257.10,749.03 L258.06,749.30 L259.02,749.56 L259.98,749.82 L260.95,750.08 L261.91,750.34 L262.87,750.59 L263.84,750.84 L264.80,751.10 L265.77,751.35 L266.73,751.59 L267.70,751.84 L268.66,752.09 L269.63,752.34 L270.60,752.58 L271.56,752.83 L272.53,753.07 L273.49,753.32 L274.46,753.57 L275.43,753.81 L276.39,754.06 L277.36,754.31 L278.32,754.55 L279.29,754.80 L280.25,755.05 L281.22,755.30 L282.18,755.56 L283.15,755.81 L284.11,756.07 L285.07,756.33 L286.04,756.59 L287.00,756.85 L287.96,757.12 L288.92,757.38 L289.88,757.66 L290.84,757.93 L291.79,758.21 L292.75,758.49 L293.71,758.77 L294.66,759.06 L295.61,759.35 L296.57,759.64 L297.52,759.94 L298.47,760.24 L299.42,760.55 L300.36,760.86 L301.31,761.18 L302.25,761.49 L303.20,761.82 L304.14,762.14 L305.08,762.47 L306.02,762.80 L306.96,763.14 L307.89,763.48 L308.83,763.83 L309.76,764.18 L310.70,764.53 L311.63,764.88 L312.56,765.24 L313.49,765.61 L314.41,765.97 L315.34,766.34 L316.26,766.72 L317.18,767.10 L318.11,767.48 L319.03,767.86 L319.94,768.25 L320.86,768.64 L321.78,769.04 L322.69,769.44 L323.60,769.84 L324.51,770.24 L325.42,770.65 L326.33,771.07 L327.23,771.48 L328.14,771.90 L329.04,772.33 L329.94,772.75 L330.84,773.18 L331.74,773.61 L332.64,774.05 L333.53,774.49 L334.42,774.93 L335.32,775.38 L336.20,775.83 L337.09,776.28 L337.98,776.74 L338.86,777.20 L339.75,777.66 L340.63,778.12 L341.51,778.59 L342.39,779.07 L343.26,779.54 L344.14,780.02 L345.01,780.50 L345.88,780.98 L346.75,781.47 L347.62,781.96 L348.49,782.45 L349.35,782.95 L350.21,783.45 L351.08,783.95 L351.93,784.46 L352.79,784.97 L353.65,785.48 L354.50,785.99 L355.35,786.51 L356.20,787.03 L357.05,787.55 L357.90,788.08 L358.75,788.61 L359.59,789.14 L360.43,789.67 L361.27,790.21 L362.11,790.75 L362.95,791.29 L363.78,791.84 L364.61,792.38 L365.44,792.93 L366.27,793.49 L367.10,794.04 L367.93,794.60 L368.75,795.16 L369.57,795.73 L370.39,796.29 L371.21,796.86 L372.03,797.44 L372.84,798.01 L373.65,798.59 L374.46,799.17 L375.27,799.75 L376.08,800.33 L376.89,800.92 L377.69,801.51 L378.49,802.10 L379.29,802.70 L380.09,803.30 L380.89,803.90 L381.68,804.50 L382.47,805.10 L383.26,805.71 L384.05,806.32 L384.84,806.93 L385.63,807.55 L386.41,808.16 L387.19,808.78 L387.97,809.40 L388.75,810.03 L389.52,810.65 L390.30,811.28 L391.07,811.91 L391.84,812.54 L392.61,813.18 L393.37,813.82 L394.14,814.46 L394.90,815.10"/>
<path class="c" d="M227.11,739.09 L227.82,739.79 L228.54,740.48 L229.28,741.15 L230.03,741.81 L230.79,742.45 L231.57,743.08 L232.35,743.69 L233.15,744.28 L233.96,744.86 L234.78,745.43 L235.62,745.98 L236.46,746.52 L237.30,747.04 L238.16,747.55 L239.03,748.04 L239.90,748.52 L240.78,748.99 L241.67,749.44 L242.56,749.89 L243.46,750.32 L244.36,750.74 L245.27,751.15 L246.18,751.55 L247.10,751.94 L248.02,752.32 L248.95,752.69 L249.87,753.05 L250.81,753.41 L251.74,753.75 L252.68,754.10 L253.61,754.43 L254.56,754.76 L255.50,755.08 L256.44,755.40 L257.39,755.71 L258.34,756.02 L259.29,756.32 L260.24,756.62 L261.19,756.91 L262.14,757.20 L263.10,757.49 L264.05,757.78 L265.01,758.06 L265.97,758.34 L266.92,758.61 L267.88,758.89 L268.84,759.16 L269.80,759.44 L270.76,759.71 L271.72,759.98 L272.67,760.25 L273.63,760.52 L274.59,760.79 L275.55,761.06 L276.51,761.33 L277.47,761.60 L278.43,761.88 L279.39,762.15 L280.34,762.43 L281.30,762.71 L282.26,762.99 L283.21,763.27 L284.17,763.56 L285.12,763.85 L286.07,764.14 L287.02,764.44 L287.97,764.74 L288.92,765.05 L289.87,765.36 L290.81,765.67 L291.76,766.00 L292.70,766.32 L293.64,766.65 L294.58,766.99 L295.51,767.34 L296.44,767.69 L297.37,768.05 L298.30,768.41 L299.23,768.78 L300.15,769.16 L301.07,769.54 L301.99,769.93 L302.90,770.33 L303.81,770.73 L304.72,771.14 L305.63,771.55 L306.53,771.97 L307.43,772.40 L308.33,772.83 L309.23,773.26 L310.12,773.71 L311.01,774.15 L311.90,774.61 L312.78,775.06 L313.67,775.53 L314.55,775.99 L315.42,776.47 L316.30,776.94 L317.17,777.43 L318.04,777.91 L318.91,778.40 L319.77,778.90 L320.63,779.40 L321.49,779.90 L322.35,780.41 L323.21,780.93 L324.06,781.44 L324.91,781.96 L325.75,782.49 L326.60,783.02 L327.44,783.55 L328.28,784.09 L329.12,784.62 L329.96,785.17 L330.79,785.71 L331.62,786.26 L332.45,786.82 L333.28,787.37 L334.10,787.93 L334.93,788.49 L335.75,789.06 L336.57,789.63 L337.38,790.20 L338.20,790.77 L339.01,791.35 L339.82,791.93 L340.63,792.51 L341.44,793.09 L342.25,793.68 L343.05,794.26 L343.85,794.85 L344.65,795.45 L345.45,796.04 L346.25,796.64 L347.05,797.24 L347.84,797.84 L348.64,798.44 L349.43,799.04 L350.22,799.65 L351.01,800.26 L351.80,800.87 L352.59,801.48 L353.37,802.09 L354.16,802.70 L354.94,803.32 L355.73,803.93 L356.51,804.55 L357.29,805.17 L358.07,805.79 L358.85,806.41 L359.63,807.03 L360.41,807.65 L361.19,808.28 L361.97,808.90 L362.74,809.52 L363.52,810.15 L364.29,810.77 L365.07,811.40 L365.84,812.03 L366.62,812.66 L367.39,813.28 L368.17,813.91 L368.94,814.54 L369.71,815.17 L370.49,815.80 L371.26,816.42 L372.03,817.05 L372.81,817.68 L373.58,818.31 L374.35,818.94 L375.13,819.57 L375.90,820.19 L376.68,820.82 L377.45,821.45 L378.23,822.07 L379.00,822.70"/>
<path class="c" d="M227.19,741.70 L227.76,742.52 L228.35,743.31 L228.97,744.09 L229.61,744.86 L230.27,745.60 L230.96,746.32 L231.66,747.03 L232.38,747.71 L233.12,748.38 L233.87,749.03 L234.64,749.66 L235.42,750.27 L236.22,750.87 L237.03,751.45 L237.85,752.01 L238.68,752.56 L239.52,753.09 L240.37,753.61 L241.22,754.12 L242.09,754.61 L242.96,755.09 L243.84,755.56 L244.72,756.02 L245.61,756.47 L246.50,756.91 L247.40,757.34 L248.30,757.76 L249.21,758.17 L250.12,758.57 L251.03,758.96 L251.95,759.35 L252.87,759.73 L253.79,760.10 L254.71,760.47 L255.64,760.84 L256.57,761.20 L257.50,761.55 L258.43,761.90 L259.36,762.25 L260.29,762.59 L261.23,762.94 L262.16,763.28 L263.10,763.62 L264.03,763.95 L264.97,764.29 L265.90,764.63 L266.84,764.97 L267.77,765.31 L268.71,765.65 L269.64,766.00 L270.57,766.34 L271.50,766.69 L272.43,767.05 L273.36,767.40 L274.29,767.77 L275.21,768.13 L276.14,768.51 L277.06,768.89 L277.97,769.27 L278.89,769.66 L279.80,770.07 L280.71,770.47 L281.61,770.89 L282.51,771.31 L283.41,771.74 L284.30,772.18 L285.19,772.63 L286.08,773.08 L286.96,773.54 L287.84,774.01 L288.71,774.48 L289.58,774.96 L290.45,775.45 L291.31,775.94 L292.17,776.44 L293.03,776.95 L293.88,777.46 L294.73,777.98 L295.58,778.50 L296.42,779.04 L297.26,779.57 L298.09,780.12 L298.92,780.66 L299.75,781.22 L300.57,781.78 L301.39,782.34 L302.20,782.91 L303.02,783.49 L303.82,784.07 L304.63,784.65 L305.43,785.24 L306.23,785.84 L307.02,786.44 L307.81,787.04 L308.60,787.65 L309.38,788.26 L310.16,788.88 L310.94,789.50 L311.72,790.12 L312.49,790.75 L313.25,791.39 L314.02,792.02 L314.78,792.66 L315.54,793.31 L316.29,793.96 L317.05,794.61 L317.80,795.26 L318.54,795.92 L319.29,796.58 L320.03,797.24 L320.76,797.91 L321.50,798.58 L322.23,799.25 L322.96,799.93 L323.69,800.61 L324.42,801.29 L325.14,801.97 L325.86,802.66 L326.58,803.35 L327.30,804.04 L328.01,804.73 L328.72,805.42 L329.43,806.12 L330.14,806.82 L330.84,807.52 L331.55,808.23 L332.25,808.93 L332.95,809.64 L333.65,810.35 L334.34,811.06 L335.04,811.77 L335.73,812.48 L336.43,813.20 L337.12,813.91 L337.80,814.63 L338.49,815.35 L339.18,816.07 L339.86,816.79 L340.55,817.51 L341.23,818.24 L341.91,818.96 L342.59,819.69 L343.27,820.41 L343.95,821.14 L344.63,821.87 L345.31,822.60 L345.99,823.33 L346.66,824.06 L347.34,824.79 L348.01,825.52 L348.69,826.25 L349.36,826.98 L350.04,827.71 L350.71,828.44 L351.38,829.18 L352.06,829.91 L352.73,830.64 L353.40,831.37 L354.08,832.10 L354.75,832.84 L355.43,833.57 L356.10,834.30"/>
<path class="c" d="M227.65,745.53 L228.06,746.43 L228.48,747.33 L228.92,748.23 L229.36,749.12 L229.81,750.00 L230.27,750.89 L230.74,751.76 L231.22,752.63 L231.70,753.50 L232.20,754.36 L232.70,755.22 L233.21,756.08 L233.72,756.92 L234.24,757.77 L234.77,758.61 L235.31,759.45 L235.85,760.28 L236.40,761.11 L236.95,761.94 L237.51,762.76 L238.07,763.58 L238.64,764.39 L239.21,765.21 L239.79,766.02 L240.37,766.82 L240.96,767.63 L241.54,768.43 L242.14,769.23 L242.73,770.02 L243.33,770.82 L243.93,771.61 L244.53,772.40 L245.13,773.19 L245.74,773.98 L246.35,774.77 L246.95,775.55 L247.56,776.34 L248.17,777.12 L248.79,777.90 L249.40,778.69 L250.01,779.47 L250.62,780.25 L251.24,781.04 L251.85,781.82 L252.46,782.60 L253.07,783.39 L253.68,784.17 L254.29,784.96 L254.89,785.75 L255.50,786.53 L256.10,787.32 L256.70,788.12 L257.30,788.91 L257.90,789.70 L258.49,790.50 L259.08,791.30 L259.67,792.10 L260.25,792.91 L260.83,793.72 L261.41,794.53 L261.98,795.34 L262.54,796.16 L263.10,796.98 L263.66,797.80 L264.21,798.63 L264.76,799.46 L265.30,800.29 L265.83,801.13 L266.36,801.98 L266.88,802.82 L267.39,803.67 L267.90,804.53 L268.40,805.39 L268.89,806.25 L269.37,807.12 L269.85,807.99 L270.31,808.87 L270.77,809.75 L271.22,810.64 L271.66,811.53 L272.10,812.42 L272.53,813.32 L272.95,814.22 L273.37,815.12 L273.78,816.03 L274.18,816.93 L274.58,817.84 L274.98,818.76 L275.37,819.67 L275.76,820.59 L276.14,821.50 L276.52,822.42 L276.90,823.34 L277.27,824.26 L277.65,825.18 L278.02,826.11 L278.38,827.03 L278.75,827.95 L279.12,828.88 L279.48,829.80 L279.85,830.73 L280.21,831.65 L280.58,832.57 L280.94,833.50 L281.31,834.42 L281.67,835.35 L282.04,836.27 L282.42,837.19 L282.79,838.11 L283.17,839.03 L283.55,839.95 L283.93,840.87 L284.32,841.78 L284.71,842.70 L285.10,843.61 L285.50,844.52 L285.91,845.43 L286.32,846.33 L286.73,847.23 L287.16,848.13 L287.59,849.03 L288.02,849.92 L288.46,850.81 L288.92,851.70 L289.38,852.58 L289.84,853.46 L290.32,854.33 L290.80,855.20"/>
<path class="c" d="M227.71,864.69 L228.71,864.60 L229.70,864.51 L230.70,864.42 L231.69,864.33 L232.69,864.23 L233.68,864.13 L234.68,864.03 L235.67,863.93 L236.66,863.83 L237.66,863.72 L238.65,863.62 L239.64,863.51 L240.64,863.40 L241.63,863.29 L242.62,863.17 L243.62,863.06 L244.61,862.94 L245.60,862.82 L246.59,862.69 L247.58,862.57 L248.57,862.44 L249.57,862.32 L250.56,862.19 L251.55,862.05 L252.54,861.92 L253.53,861.78 L254.52,861.64 L255.51,861.50 L256.50,861.36 L257.48,861.22 L258.47,861.07 L259.46,860.92 L260.45,860.77 L261.44,860.62 L262.42,860.46 L263.41,860.30 L264.40,860.14 L265.38,859.98 L266.37,859.82 L267.35,859.65 L268.34,859.48 L269.32,859.31 L270.31,859.14 L271.29,858.96 L272.27,858.79 L273.26,858.61 L274.24,858.42 L275.22,858.24 L276.20,858.05 L277.19,857.86 L278.17,857.67 L279.15,857.48 L280.13,857.28 L281.11,857.09 L282.09,856.89 L283.06,856.68 L284.04,856.48 L285.02,856.27 L286.00,856.06 L286.97,855.85 L287.95,855.63 L288.92,855.41 L289.90,855.19 L290.87,854.97 L291.85,854.75 L292.82,854.52 L293.79,854.29 L294.76,854.05 L295.73,853.82 L296.71,853.58 L297.67,853.34 L298.64,853.10 L299.61,852.85 L300.58,852.60 L301.55,852.35 L302.51,852.09 L303.48,851.84 L304.44,851.58 L305.41,851.31 L306.37,851.05 L307.33,850.78 L308.30,850.51 L309.26,850.23 L310.22,849.96 L311.18,849.68 L312.13,849.39 L313.09,849.11 L314.05,848.82 L315.01,848.53 L315.96,848.24 L316.92,847.94 L317.87,847.64 L318.82,847.34 L319.77,847.04 L320.73,846.74 L321.68,846.43 L322.63,846.12 L323.58,845.80 L324.52,845.49 L325.47,845.17 L326.42,844.85 L327.36,844.52 L328.31,844.20 L329.25,843.87 L330.19,843.54 L331.14,843.21 L332.08,842.87 L333.02,842.53 L333.96,842.20 L334.90,841.85 L335.84,841.51 L336.77,841.16 L337.71,840.81 L338.65,840.46 L339.58,840.11 L340.51,839.75 L341.45,839.40 L342.38,839.04 L343.31,838.67 L344.24,838.31 L345.17,837.94 L346.10,837.58 L347.03,837.21 L347.96,836.83 L348.88,836.46 L349.81,836.08 L350.73,835.70 L351.66,835.32 L352.58,834.94 L353.50,834.56 L354.42,834.17 L355.35,833.78 L356.27,833.39 L357.18,833.00 L358.10,832.61 L359.02,832.21 L359.94,831.81 L360.85,831.41 L361.77,831.01 L362.68,830.61 L363.60,830.21 L364.51,829.80 L365.42,829.39 L366.33,828.98 L367.24,828.57 L368.15,828.16 L369.06,827.74 L369.97,827.32 L370.88,826.91 L371.79,826.49 L372.69,826.06 L373.60,825.64 L374.50,825.22 L375.41,824.79 L376.31,824.36 L377.21,823.93 L378.11,823.50 L379.01,823.07 L379.91,822.64 L380.81,822.20 L381.71,821.76 L382.61,821.32 L383.51,820.89 L384.40,820.44 L385.30,820.00 L386.19,819.56 L387.09,819.11 L387.98,818.67 L388.88,818.22 L389.77,817.77 L390.66,817.32 L391.55,816.86 L392.44,816.41 L393.33,815.96 L394.22,815.50 L395.11,815.04 L396.00,814.59 L396.89,814.13 L397.77,813.66 L398.66,813.20 L399.54,812.74 L400.43,812.28 L401.31,811.81 L402.20,811.34 L403.08,810.87 L403.96,810.41 L404.84,809.93 L405.72,809.46 L406.60,808.99 L407.48,808.52 L408.36,808.04 L409.24,807.56 L410.12,807.09 L411.00,806.61 L411.87,806.13 L412.75,805.65 L413.62,805.16 L414.50,804.68 L415.37,804.20 L416.24,803.71 L417.12,803.22 L417.99,802.73 L418.86,802.24 L419.73,801.75 L420.60,801.26 L421.47,800.77 L422.34,800.27 L423.21,799.78 L424.07,799.28 L424.94,798.79 L425.81,798.29 L426.67,797.79 L427.54,797.29 L428.40,796.78 L429.26,796.28 L430.13,795.78 L430.99,795.27 L431.85,794.76 L432.71,794.26 L433.57,793.75 L434.43,793.24 L435.29,792.73 L436.15,792.21 L437.00,791.70 L437.86,791.18 L438.72,790.67 L439.57,790.15 L440.43,789.63 L441.28,789.12 L442.13,788.60 L442.99,788.07 L443.84,787.55 L444.69,787.03 L445.54,786.50 L446.39,785.98 L447.24,785.45 L448.09,784.92 L448.94,784.40 L449.78,783.87 L450.63,783.33 L451.48,782.80 L452.32,782.27 L453.17,781.74 L454.01,781.20 L454.85,780.66 L455.70,780.13 L456.54,779.59 L457.38,779.05 L458.22,778.51 L459.06,777.97 L459.90,777.42 L460.74,776.88 L461.57,776.34 L462.41,775.79 L463.25,775.24 L464.08,774.70 L464.92,774.15 L465.75,773.60 L466.59,773.05 L467.42,772.49 L468.25,771.94 L469.08,771.39 L469.92,770.83 L470.75,770.28 L471.58,769.72 L472.40,769.16 L473.23,768.60 L474.06,768.04 L474.89,767.48 L475.71,766.92 L476.54,766.36 L477.36,765.79 L478.19,765.23 L479.01,764.66 L479.83,764.09 L480.66,763.53 L481.48,762.96 L482.30,762.39 L483.12,761.82 L483.94,761.24 L484.76,760.67 L485.58,760.10 L486.39,759.52 L487.21,758.95 L488.03,758.37 L488.84,757.79 L489.66,757.21 L490.47,756.63 L491.28,756.05 L492.10,755.47 L492.91,754.89 L493.72,754.31 L494.53,753.72 L495.34,753.14 L496.15,752.55 L496.96,751.96 L497.77,751.37 L498.57,750.79 L499.38,750.20 L500.18,749.60 L500.99,749.01 L501.79,748.42 L502.60,747.83 L503.40,747.23 L504.20,746.64 L505.01,746.04 L505.81,745.44 L506.61,744.84 L507.41,744.24 L508.21,743.64 L509.00,743.04 L509.80,742.44 L510.60,741.84 L511.39,741.23 L512.19,740.63 L512.98,740.02 L513.78,739.42 L514.57,738.81 L515.37,738.20 L516.16,737.59 L516.95,736.98 L517.74,736.37 L518.53,735.76 L519.32,735.15 L520.11,734.53 L520.90,733.92 L521.68,733.30 L522.47,732.69 L523.26,732.07 L524.04,731.45 L524.83,730.83 L525.61,730.21 L526.39,729.59 L527.18,728.97 L527.96,728.35 L528.74,727.73 L529.52,727.10 L530.30,726.48 L531.08,725.85 L531.86,725.22 L532.64,724.60 L533.41,723.97 L534.19,723.34 L534.96,722.71 L535.74,722.08 L536.51,721.45 L537.29,720.82 L538.06,720.18 L538.83,719.55 L539.61,718.91 L540.38,718.28 L541.15,717.64 L541.92,717.00 L542.69,716.37 L543.45,715.73 L544.22,715.09 L544.99,714.45 L545.76,713.81 L546.52,713.16 L547.29,712.52 L548.05,711.88 L548.81,711.23 L549.58,710.59 L550.34,709.94 L551.10,709.29 L551.86,708.65 L552.62,708.00 L553.38,707.35 L554.14,706.70 L554.90,706.05 L555.66,705.40 L556.41,704.74 L557.17,704.09 L557.92,703.44 L558.68,702.78 L559.43,702.12 L560.19,701.47 L560.94,700.81 L561.69,700.15 L562.44,699.49 L563.19,698.84 L563.95,698.18 L564.69,697.51 L565.44,696.85 L566.19,696.19 L566.94,695.53 L567.69,694.86 L568.43,694.20 L569.18,693.53 L569.92,692.87 L570.67,692.20 L571.41,691.53 L572.15,690.86 L572.90,690.19"/>
<path class="c" style="stroke-width:1.2" d="M319.2,663.8L331.6,647.9 M346.1,790.5L358.3,775.3"/>
<text style="font-size:12px"><textPath href="#fp1" startOffset="115" textLength="306" lengthAdjust="spacing">Flow limit curve for a counter pressure = 0 <tspan letter-spacing="1.6">psi</tspan>g [bar]</textPath></text>
<text style="font-size:11.5px"><textPath href="#fp2" startOffset="102" textLength="280" lengthAdjust="spacing">Flow limit curve for a counter pressure = 0 <tspan letter-spacing="1.6">psi</tspan>g [bar]</textPath></text>
<text class="t" x="208" y="15.7">2.0</text><text class="t" x="208" y="32.7">[138]</text>
<text class="t" x="208" y="66.8">1.8</text><text class="t" x="208" y="83.5">[124]</text>
<text class="t" x="208" y="120.6">1.5</text><text class="t" x="208" y="136.4">[103]</text>
<text class="t" x="208" y="172.8">1.2</text><text class="t" x="208" y="189.9">[83]</text>
<text class="t" x="208" y="224.2">0.9</text><text class="t" x="208" y="240.8">[62]</text>
<text class="t" x="208" y="275.6">0.6</text><text class="t" x="208" y="293.0">[41]</text>
<text class="t" x="208" y="331.5">0.3</text><text class="t" x="208" y="349.4">[21]</text>
<text class="t" x="208" y="391.3">0</text>
<text class="t" x="264.6" y="398.8">0.7</text><text class="t" x="264.6" y="414.6">[20]</text>
<text class="t" x="301.5" y="398.8">1.4</text><text class="t" x="301.5" y="414.6">[40]</text>
<text class="t" x="337.5" y="398.8">2.1</text><text class="t" x="337.5" y="414.6">[59]</text>
<text class="t" x="374.4" y="398.8">2.8</text><text class="t" x="374.4" y="414.6">[79]</text>
<text class="t" x="410.6" y="398.8">3.5</text><text class="t" x="410.6" y="414.6">[99]</text>
<text class="t" x="446.2" y="398.8">4.2</text><text class="t" x="446.2" y="414.6">[119]</text>
<text class="t" x="482.3" y="398.8">4.9</text><text class="t" x="482.3" y="414.6">[139]</text>
<text class="t" x="519.3" y="398.8">5.7</text><text class="t" x="519.3" y="414.6">[161]</text>
<text class="t" x="555.4" y="398.8">6.4</text><text class="t" x="555.4" y="414.6">[181]</text>
<text class="b" x="400.7" y="444.4">FLOW RATE - SCFM [SLPM]</text>
<text class="b" transform="translate(175.2,188) rotate(-90)">OUTLET PRESSURE - psig [mbar]</text>
<text style="font-size:13px;letter-spacing:0.3px" x="372.5" y="53">P1 = psig [bar]</text>
<text class="s" x="454.0" y="99.7">290 [20.0]</text>
<text class="s" x="452.3" y="139.2">145 [10.0]</text>
<text class="s" x="451.5" y="168.8">72.5 [5.0]</text>
<text class="s" x="375.7" y="188.0">14.5 [1.0]</text>
<text class="s" x="302.5" y="199.6">290 [20.0]</text>
<text class="s" x="313.4" y="233.8">145 (10.0)</text>
<text class="s" x="350.9" y="266.4">72.5 [5.0]</text>
<text class="s" x="326.3" y="292.0">14.5 [1.0]</text>
<text class="t" x="204" y="511.7">21.5</text><text class="t" x="204" y="529.6">[1.5]</text>
<text class="t" x="204" y="622.9">14.5</text><text class="t" x="204" y="639.8">[1.00]</text>
<text class="t" x="204" y="744.4">7</text><text class="t" x="204" y="762.8">[0.5]</text>
<text class="t" x="215.6" y="879.7">0</text>
<text class="t" x="279.2" y="879.7">7</text><text class="t" x="279.2" y="896.5">[198]</text>
<text class="t" x="332.6" y="879.7">14</text><text class="t" x="332.6" y="896.5">[396]</text>
<text class="t" x="384.4" y="879.7">21</text><text class="t" x="384.4" y="896.5">[595]</text>
<text class="t" x="434.6" y="879.7">28</text><text class="t" x="434.6" y="896.5">[793]</text>
<text class="t" x="484.8" y="879.7">35</text><text class="t" x="484.8" y="896.5">[991]</text>
<text class="t" x="536.4" y="879.7">42</text><text class="t" x="536.4" y="896.5">[1189]</text>
<text class="b" x="411.5" y="918.7">FLOW RATE - SCFM [SLPM]</text>
<text class="b" transform="translate(162.3,668.8) rotate(-90)">OUTLET PRESSURE - psig [bar]</text>
<text style="font-size:13px;letter-spacing:0.3px" x="416.7" y="527.5">P1 = psig [bar]</text>
<text class="s" x="463.8" y="593.2">290</text><text class="s" x="464.6" y="605.7">[20.0]</text>
<text class="s" x="361.0" y="607.8">72.5</text><text class="s" x="366.3" y="621.4">[5.0]</text>
<text class="s" x="475.8" y="654.4">145</text><text class="s" x="475.8" y="668.4">[10.0]</text>
<text class="s" x="333.4" y="635.8">145</text><text class="s" x="333.4" y="648.8">[10.0]</text>
<text class="s" x="381.1" y="735.7">72.5</text><text class="s" x="387.0" y="749.0">[5.0]</text>
<text class="s" x="451.4" y="713.5">290</text><text class="s" x="450.8" y="727.0">[20.0]</text>
<text class="s" x="319.9" y="751.0">290</text><text class="s" x="319.9" y="764.0">[20.0]</text>
<text class="s" x="360.9" y="772.1">145</text><text class="s" x="360.9" y="785.4">[10.0]</text>
<text class="s" x="303.9" y="815.7">72.5</text><text class="s" x="309.8" y="829.0">[5.0]</text>
<text class="s" x="249.5" y="830.8">14.5</text><text class="s" x="255.3" y="844.1">[1.0]</text>
</svg></body></html>
